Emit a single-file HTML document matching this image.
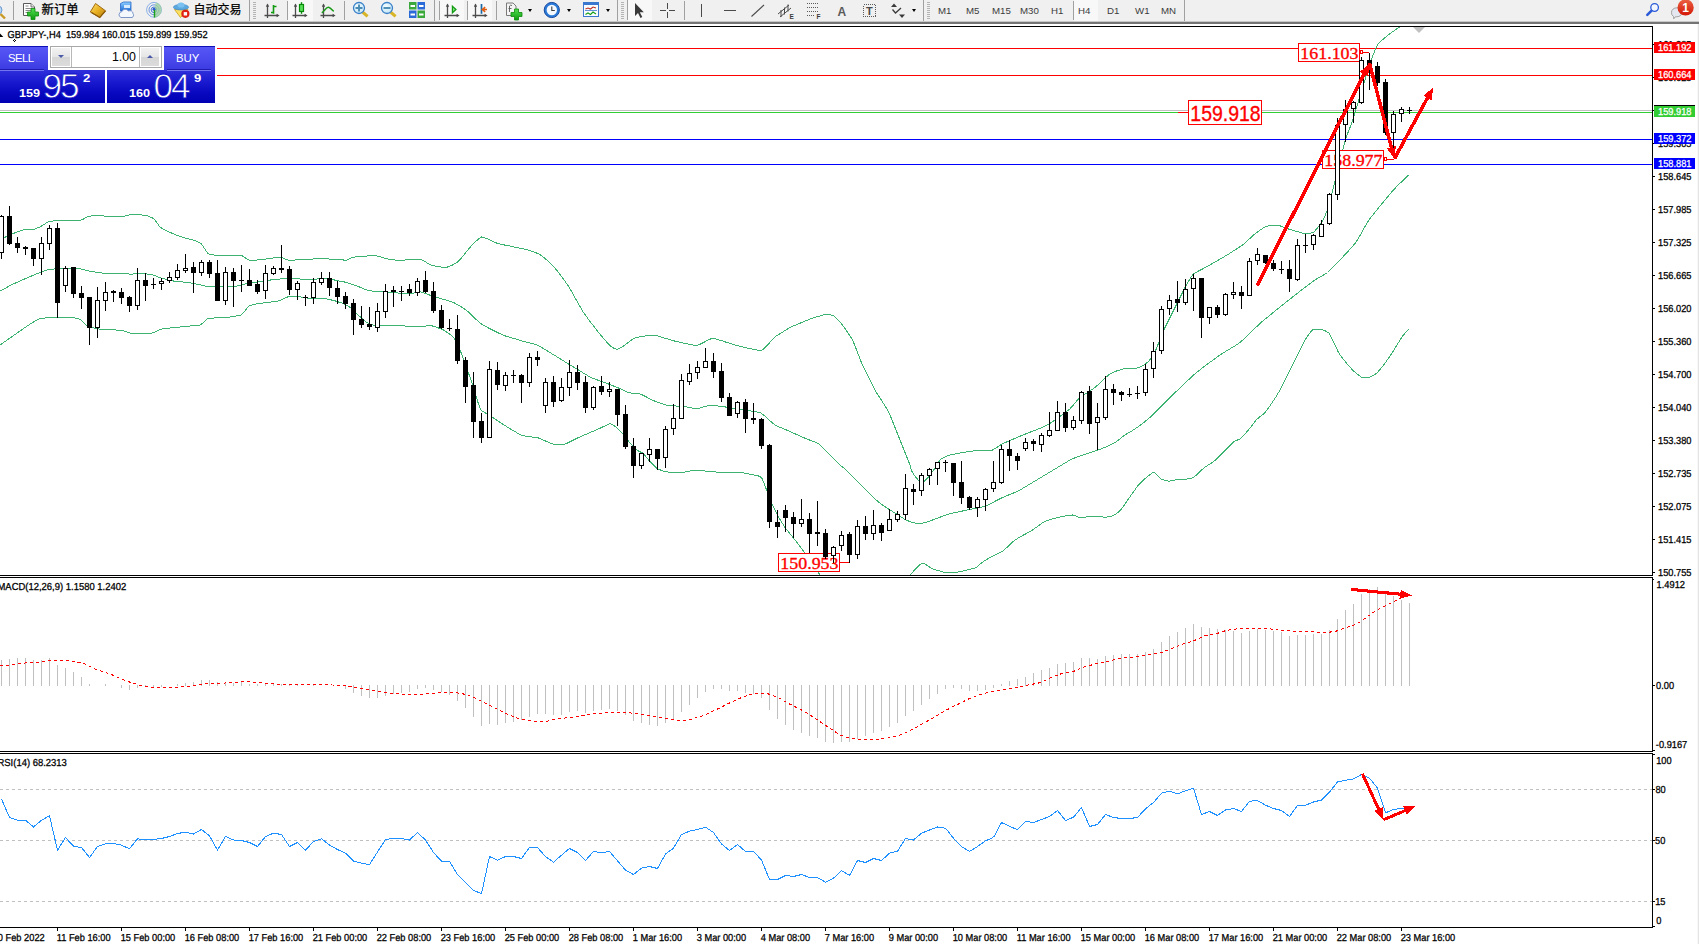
<!DOCTYPE html>
<html lang="zh">
<head>
<meta charset="utf-8">
<title>GBPJPY-,H4</title>
<style>
html,body{margin:0;padding:0;background:#fff;}
body{width:1699px;height:944px;position:relative;overflow:hidden;font-family:"Liberation Sans","Noto Sans CJK SC",sans-serif;}
#tb{position:absolute;left:0;top:0;width:1699px;height:21px;background:#f0f0f0;}
.l21{position:absolute;left:0;top:21px;width:1699px;height:1px;background:#c8c8c8;}
.l22{position:absolute;left:0;top:22px;width:1699px;height:2px;background:#747474;}
.redge{position:absolute;left:1697px;top:24px;width:2px;height:920px;background:linear-gradient(to right,#f8f8f8 50%,#e3e3e3 50%);}
.sep{position:absolute;top:1px;width:1px;height:19px;background:#a0a0a0;}
.grip{position:absolute;top:2px;width:3px;height:17px;background:repeating-linear-gradient(to bottom,#b4b4b4 0,#b4b4b4 1px,#f0f0f0 1px,#f0f0f0 2px);}
.sel{position:absolute;top:0;height:21px;background:#f8f8f8;}
.cj{position:absolute;top:3px;font-size:12px;line-height:15px;color:#000;font-family:"Liberation Sans","Noto Sans CJK SC",sans-serif;white-space:nowrap;-webkit-text-stroke:0.25px #000;}
.tf{position:absolute;top:5px;font-size:9.7px;line-height:12px;color:#3c3c3c;white-space:nowrap;font-family:"Liberation Sans",sans-serif;}
.ic{position:absolute;top:0;left:0;}
.dd{position:absolute;top:9px;width:0;height:0;border-left:2.5px solid transparent;border-right:2.5px solid transparent;border-top:3px solid #000;}
/* trade panel */
#tp{position:absolute;left:0;top:46px;width:215px;height:57px;font-family:"Liberation Sans",sans-serif;color:#fff;}
#tp div{position:absolute;}
.bt{background:linear-gradient(to bottom,#5757f6 0%,#4a4aee 50%,#3a3ae0 100%);border-top:1px solid #1010b8;box-sizing:border-box;}
.pr{background:linear-gradient(to bottom,#3030dc 0%,#1a1ad0 35%,#0808c0 70%,#0000b2 100%);}
</style>
</head>
<body>
<div id="tb"></div><div class="l21"></div><div class="l22"></div><div class="redge"></div>
<div class="sep" style="left:13px"></div>
<div class="sep" style="left:249px;top:0;height:21px"></div><div class="grip" style="left:253px"></div>
<div class="sep" style="left:287px"></div>
<div class="sel" style="left:288px;width:25px"></div>
<div class="sep" style="left:344px"></div>
<div class="sep" style="left:434px;top:0;height:21px"></div><div class="sep" style="left:439px"></div>
<div class="sel" style="left:440px;width:24px"></div>
<div class="sep" style="left:467px"></div>
<div class="sel" style="left:468px;width:24px"></div>
<div class="sep" style="left:496px"></div>
<div class="sep" style="left:617px;top:0;height:21px"></div><div class="grip" style="left:621px"></div><div class="sep" style="left:627px;top:0;height:20px"></div>
<div class="sel" style="left:628px;width:24px"></div>
<div class="sep" style="left:684px"></div>
<div class="sep" style="left:923px;top:0;height:21px"></div><div class="grip" style="left:927px"></div>
<div class="sep" style="left:1073px"></div>
<div class="sel" style="left:1074px;width:24px"></div>
<div class="sep" style="left:1184px;top:0;height:21px"></div>
<div class="cj" style="left:41.5px;font-size:12.4px">新订单</div>
<div class="cj" style="left:193.6px;font-size:12px">自动交易</div>
<div class="tf" style="left:938px">M1</div>
<div class="tf" style="left:966px">M5</div>
<div class="tf" style="left:992px">M15</div>
<div class="tf" style="left:1020px">M30</div>
<div class="tf" style="left:1051px">H1</div>
<div class="tf" style="left:1078px">H4</div>
<div class="tf" style="left:1107px">D1</div>
<div class="tf" style="left:1135px">W1</div>
<div class="tf" style="left:1161px">MN</div>
<div class="dd" style="left:528px"></div>
<div class="dd" style="left:567px"></div>
<div class="dd" style="left:606px"></div>
<div class="dd" style="left:912px"></div>
<svg class="ic" width="1699" height="24" viewBox="0 0 1699 24">
<defs>
<linearGradient id="gg" x1="0" y1="0" x2="0" y2="1"><stop offset="0" stop-color="#4fe04f"/><stop offset="1" stop-color="#0f9a0f"/></linearGradient>
<linearGradient id="gold" x1="0" y1="0" x2="1" y2="1"><stop offset="0" stop-color="#ffe070"/><stop offset="0.5" stop-color="#e8b020"/><stop offset="1" stop-color="#b07a10"/></linearGradient>
<linearGradient id="blu" x1="0" y1="0" x2="0" y2="1"><stop offset="0" stop-color="#8fd0ff"/><stop offset="1" stop-color="#1a6ad8"/></linearGradient>
<linearGradient id="redb" x1="0" y1="0" x2="0" y2="1"><stop offset="0" stop-color="#ea6040"/><stop offset="1" stop-color="#d41808"/></linearGradient>
<radialGradient id="lens" cx="0.4" cy="0.35" r="0.7"><stop offset="0" stop-color="#f4fcff"/><stop offset="1" stop-color="#bfe4f8"/></radialGradient>
</defs>
<!-- left partial magnifier -->
<circle cx="-2" cy="10" r="4" fill="#b8d8f8" stroke="#6a9ad0" stroke-width="1"/>
<line x1="0.5" y1="14" x2="5" y2="18.5" stroke="#c89a28" stroke-width="2.4"/>
<!-- new order doc -->
<path d="M23.5 3.5 h7.5 l3.5 3.5 v8.5 h-11 z" fill="#fff" stroke="#5a5a5a" stroke-width="1"/>
<path d="M31 3.5 v3.5 h3.5" fill="#e8e8e8" stroke="#5a5a5a" stroke-width="0.8"/>
<path d="M25.5 6 h3 M25.5 8.5 h6 M25.5 10.5 h6 M25.5 12.5 h3" stroke="#8a8a8a" stroke-width="1"/>
<path d="M31 8.5 h4 v3.5 h3.5 v4 h-3.5 v3.5 h-4 v-3.5 h-3.5 v-4 h3.5 z" fill="url(#gg)" stroke="#0a8a0a" stroke-width="0.8"/>
<!-- gold book -->
<path d="M90.3 12 L95.5 3.5 L105.5 10.8 L99.8 17.5 Z" fill="url(#gold)" stroke="#a06a10" stroke-width="1"/>
<path d="M91.5 12.6 L99.8 17.5 L105.5 10.8" fill="none" stroke="#8a5808" stroke-width="1.2"/>
<!-- server/cloud -->
<path d="M120.5 3.5 l3 -1.5 h7.5 v9 h-10.5 z" fill="url(#blu)" stroke="#2a6ac8" stroke-width="0.8"/>
<path d="M124 5 h6 v3 h-6 z" fill="#d8ecff"/>
<path d="M121 17.5 a3 3 0 0 1 0.8 -5.8 a3.6 3.6 0 0 1 6.6 -0.6 a3 3 0 0 1 4.6 2.6 a2.4 2.4 0 0 1 -1 3.8 z" fill="#f4f8ff" stroke="#7a96c8" stroke-width="1"/>
<!-- signal -->
<circle cx="154" cy="9.8" r="7.4" fill="none" stroke="#8ab0e8" stroke-width="1"/>
<circle cx="154" cy="9.8" r="5" fill="none" stroke="#6a94e0" stroke-width="1"/>
<circle cx="154" cy="9.8" r="2.8" fill="none" stroke="#4a78d8" stroke-width="1"/>
<path d="M154 9.8 L154 17.4 A7.6 7.6 0 0 0 161.6 9.8 A7.6 7.6 0 0 0 156 2.5 Z" fill="#9ad09a" opacity="0.75"/>
<circle cx="154" cy="9.3" r="1.5" fill="#2a5ad0"/>
<line x1="154.5" y1="10" x2="154.5" y2="17.5" stroke="#18a018" stroke-width="1.4"/>
<!-- autotrade -->
<path d="M174.5 9.5 h13.5 l-7.5 8 z" fill="#ffe060" stroke="#c8a020" stroke-width="0.8"/>
<ellipse cx="181" cy="7.2" rx="7.6" ry="2.8" fill="#5aa8e0" stroke="#3a80c0" stroke-width="0.6"/>
<ellipse cx="181" cy="5" rx="3.6" ry="2.6" fill="#7ac0f0"/>
<circle cx="185.4" cy="13.8" r="4.1" fill="#e02010"/>
<rect x="183.7" y="12.1" width="3.4" height="3.4" fill="#fff"/>
<!-- chart type icons -->
<path d="M267.5 4.5 V18 M264.5 15.5 H278" stroke="#4c4c4c" stroke-width="1.3" fill="none"/><path d="M265.8 6.8 L267.5 3.6 L269.2 6.8 Z M276.6 13.8 L279.6 15.5 L276.6 17.2 Z" fill="#4c4c4c"/>
<path d="M295.5 4.5 V18 M292.5 15.5 H306" stroke="#4c4c4c" stroke-width="1.3" fill="none"/><path d="M293.8 6.8 L295.5 3.6 L297.2 6.8 Z M304.6 13.8 L307.6 15.5 L304.6 17.2 Z" fill="#4c4c4c"/>
<path d="M323.5 4.5 V18 M320.5 15.5 H334" stroke="#4c4c4c" stroke-width="1.3" fill="none"/><path d="M321.8 6.8 L323.5 3.6 L325.2 6.8 Z M332.6 13.8 L335.6 15.5 L332.6 17.2 Z" fill="#4c4c4c"/>
<path d="M447.5 4.5 V18 M444.5 15.5 H458" stroke="#4c4c4c" stroke-width="1.3" fill="none"/><path d="M445.8 6.8 L447.5 3.6 L449.2 6.8 Z M456.6 13.8 L459.6 15.5 L456.6 17.2 Z" fill="#4c4c4c"/>
<path d="M475.5 4.5 V18 M472.5 15.5 H486" stroke="#4c4c4c" stroke-width="1.3" fill="none"/><path d="M473.8 6.8 L475.5 3.6 L477.2 6.8 Z M484.6 13.8 L487.6 15.5 L484.6 17.2 Z" fill="#4c4c4c"/>
<path d="M273.5 5 V13.8 M273.5 6.5 H276.5 M271 12.5 H273.5" stroke="#129a12" stroke-width="1.6" fill="none"/>
<path d="M301.5 2.2 V13.8" stroke="#0a8a0a" stroke-width="1.4"/>
<rect x="299.5" y="4.5" width="4" height="7" fill="#56e056" stroke="#0a8a0a" stroke-width="1.2"/>
<path d="M321.8 12.8 C324.5 11 326 7.2 328.3 7.2 C330.5 7.2 331.5 10.4 333.8 11.2" stroke="#1a9a1a" stroke-width="1.5" fill="none"/>
<path d="M452.4 6.2 L456 9.5 L452.4 12.8 Z" fill="#7ae07a" stroke="#129a12" stroke-width="1.2"/>
<path d="M481.5 4 V13.8" stroke="#1a6aa8" stroke-width="1.7"/>
<path d="M487 9.500 H482.600 M485.200 7.200 L482.300 9.500 L485.200 11.800" stroke="#e05a10" stroke-width="1.500" fill="none"/>
<!-- zoom in / out -->
<line x1="362.5" y1="12" x2="367.6" y2="16.300" stroke="#d8b428" stroke-width="3" stroke-linecap="butt"/>
<circle cx="359" cy="8" r="5.500" fill="url(#lens)" stroke="#3a80c8" stroke-width="1.300"/>
<path d="M355.500 8 h7 M359 4.500 v7" stroke="#4a8cb4" stroke-width="1.900"/>
<line x1="390.500" y1="12" x2="395.600" y2="16.300" stroke="#d8b428" stroke-width="3" stroke-linecap="butt"/>
<circle cx="387" cy="8" r="5.500" fill="url(#lens)" stroke="#3a80c8" stroke-width="1.300"/>
<path d="M383.500 8 h7" stroke="#4a8cb4" stroke-width="1.900"/>
<!-- tile -->
<rect x="409" y="2" width="7.500" height="7.500" fill="#3aa83a"/><rect x="417.500" y="2" width="7.500" height="7.500" fill="#2a6ad8"/>
<rect x="409" y="10.500" width="7.500" height="7.500" fill="#2a6ad8"/><rect x="417.500" y="10.500" width="7.500" height="7.500" fill="#3aa83a"/>
<path d="M410.500 6 h4.500 M419 6 h4.500 M410.500 14.500 h4.500 M419 14.500 h4.500" stroke="#fff" stroke-width="2"/>
<!-- indicators doc+plus -->
<path d="M506.500 3 h6.500 l3 3 v9.500 h-9.500 z" fill="#f4f4f4" stroke="#7a7a7a" stroke-width="1"/>
<path d="M509.500 12 v-6 q1 -1.500 2.500 -0.500 M508.500 8.500 h3" stroke="#5a5a5a" stroke-width="0.900" fill="none"/>
<path d="M514.500 9 h4 v3.500 h3.500 v4 h-3.500 v3.500 h-4 v-3.500 h-3.500 v-4 h3.500 z" fill="url(#gg)" stroke="#0a8a0a" stroke-width="0.800"/>
<!-- clock -->
<circle cx="551.800" cy="10" r="7.600" fill="#2a7ad8" stroke="#1a4aa0" stroke-width="1"/>
<circle cx="551.800" cy="10" r="5.200" fill="#f4f8ff"/>
<path d="M551.800 6.500 v4 h3" stroke="#3a3a3a" stroke-width="1.100" fill="none"/>
<!-- template -->
<rect x="583.500" y="2.500" width="15" height="14" fill="#f8fbff" stroke="#3a78d0" stroke-width="1"/>
<rect x="583.500" y="2.500" width="15" height="2.500" fill="#3a78d0"/>
<path d="M585.500 9 l2.500 -1 l2.500 1 l2.500 -2 l3 1" stroke="#c03020" stroke-width="1.100" fill="none"/>
<path d="M585 10.500 h12" stroke="#3a78d0" stroke-width="0.800"/>
<path d="M585.500 14.500 l2.500 -1.500 l2.500 1.500 l2.500 -2.500 l3 2" stroke="#18a018" stroke-width="1.100" fill="none"/>
<!-- cursor -->
<path d="M635 3 v13 l3 -3 l2.500 5 l1.800 -0.900 l-2.500 -4.800 h4 z" fill="#3a3a3a"/>
<!-- crosshair -->
<path d="M667.500 3 v6 M667.500 12 v6 M660 10.500 h6 M669 10.500 h6" stroke="#4a4a4a" stroke-width="1" shape-rendering="crispEdges"/>
<!-- vline, hline, trend -->
<path d="M701.500 4 v13 M724 10.500 h12" stroke="#4a4a4a" stroke-width="1" shape-rendering="crispEdges"/>
<line x1="751.500" y1="16.500" x2="764" y2="5" stroke="#4a4a4a" stroke-width="1.100"/>
<!-- channel -->
<path d="M778 14 l11 -9 M780 17 l11 -9 M781 10 v7 M784.500 7.500 v7 M788 4.500 v7" stroke="#4a4a4a" stroke-width="1" fill="none"/>
<text x="789.500" y="19" font-family="'Liberation Sans',sans-serif" font-size="6.500" font-weight="bold" fill="#3a3a3a">E</text>
<!-- fib -->
<path d="M807 3.500 h11 M807 7.500 h11 M807 11.500 h11 M807 15.500 h8" stroke="#5a5a5a" stroke-width="1" stroke-dasharray="1 1" shape-rendering="crispEdges"/>
<text x="816.500" y="19" font-family="'Liberation Sans',sans-serif" font-size="6.500" font-weight="bold" fill="#3a3a3a">F</text>
<!-- A -->
<text x="837.500" y="15.500" font-family="'Liberation Sans',sans-serif" font-size="12" font-weight="bold" fill="#5a5a5a">A</text>
<!-- T label -->
<rect x="863.500" y="4.500" width="12" height="12" fill="none" stroke="#5a5a5a" stroke-width="1" stroke-dasharray="1 1" shape-rendering="crispEdges"/>
<text x="866" y="15" font-family="'Liberation Sans',sans-serif" font-size="11" font-weight="bold" fill="#4a4a4a">T</text>
<!-- arrows icon -->
<path d="M891 7 l3 -3.500 l3 3.500 z M899 14.500 l3 3.500 l3 -3.500 z" fill="#3a3a3a"/>
<path d="M892.500 9.500 l3 3.500 l5.500 -5" stroke="#3a3a3a" stroke-width="1.300" fill="none"/>
<!-- search -->
<line x1="1651.300" y1="10.800" x2="1647.300" y2="14.800" stroke="#2a5ad8" stroke-width="2.600" stroke-linecap="round"/>
<circle cx="1654.600" cy="7.500" r="3.800" fill="#f4f6ff" stroke="#2a5ad8" stroke-width="1.300"/>
<!-- chat -->
<path d="M1671.500 12.300 a5.300 4.500 0 1 1 5.300 4.500 h-1.500 l-1.500 2 l-0.300 -2.300 a5 4.500 0 0 1 -2 -4.200 z" fill="#e4e6f0" stroke="#a0a0a0" stroke-width="1"/>
<circle cx="1685.600" cy="7.500" r="8.100" fill="url(#redb)"/>
<text x="1685.600" y="11.800" text-anchor="middle" font-family="'Liberation Sans',sans-serif" font-size="12" font-weight="bold" fill="#fff">1</text>
</svg>

<svg id="chart" width="1699" height="944" viewBox="0 0 1699 944" style="position:absolute;left:0;top:0">
<defs><clipPath id="cm"><rect x="0" y="27" width="1652" height="548"/></clipPath><clipPath id="c2"><rect x="0" y="578" width="1652" height="172"/></clipPath><clipPath id="c3"><rect x="0" y="754" width="1652" height="173"/></clipPath></defs>
<g clip-path="url(#cm)" shape-rendering="crispEdges">
<rect x="217" y="48" width="1435" height="1" fill="#ff0000"/>
<rect x="217" y="75" width="1435" height="1" fill="#ff0000"/>
<rect x="0" y="110" width="1652" height="1" fill="#c0c0c0"/>
<rect x="0" y="112" width="1652" height="1" fill="#32cd32"/>
<rect x="0" y="139" width="1652" height="1" fill="#0000ff"/>
<rect x="0" y="164" width="1652" height="1" fill="#0000ff"/>
<polyline points="-3.0,241.0 -1.0,240.1 1.0,239.1 3.0,238.2 4.4,237.5 5.0,237.2 7.0,236.3 9.0,235.4 11.0,234.4 12.5,233.8 13.0,233.5 15.0,232.8 17.0,232.0 19.0,231.3 21.0,230.7 23.0,230.0 25.0,229.4 27.0,229.2 29.0,229.2 31.0,229.3 33.0,229.2 34.4,229.1 35.0,228.9 37.0,228.1 39.0,227.3 41.0,226.4 41.2,226.2 43.0,225.2 45.0,223.8 47.0,222.5 49.0,221.4 49.4,221.2 51.0,221.1 53.0,221.0 55.0,220.8 57.0,220.7 59.0,220.7 60.0,220.6 61.0,220.6 63.0,220.5 65.0,220.4 67.0,220.4 69.0,220.4 71.0,220.3 73.0,220.3 75.0,220.2 77.0,220.2 79.0,220.1 81.0,220.0 81.2,220.0 83.0,219.3 85.0,218.2 87.0,217.1 88.8,216.2 89.0,216.2 91.0,216.0 93.0,215.8 95.0,215.7 97.0,215.7 99.0,215.7 101.0,215.8 103.0,215.9 105.0,216.1 107.0,216.2 109.0,216.4 111.0,216.5 113.0,216.7 115.0,216.8 117.0,216.8 119.0,216.8 121.0,216.7 123.0,216.5 125.0,216.2 126.0,215.4 127.0,215.3 129.0,215.0 131.0,214.9 133.0,214.8 135.0,214.7 137.0,214.8 139.0,214.8 141.0,214.9 143.0,215.1 145.0,215.3 146.2,215.4 147.0,215.7 149.0,216.4 151.0,217.3 153.0,218.3 153.8,218.8 155.0,220.2 157.0,222.9 159.0,225.7 160.6,227.5 161.0,227.7 163.0,228.8 165.0,229.9 167.0,230.9 169.0,231.9 171.0,232.8 173.0,233.7 175.0,234.6 177.0,235.3 179.0,236.0 181.0,236.7 183.0,237.4 185.0,238.1 187.0,238.6 189.0,239.1 191.0,239.6 193.0,240.1 195.0,240.6 197.0,241.5 199.0,242.5 201.0,243.6 201.2,243.8 203.0,246.1 205.0,249.3 207.0,252.3 208.0,253.5 209.0,253.9 211.0,254.6 211.8,254.8 213.0,254.9 215.0,255.1 217.0,255.4 219.0,255.6 221.0,255.7 221.8,255.8 223.0,255.7 225.0,255.5 227.0,255.3 229.0,255.1 229.2,255.1 231.0,255.1 233.0,255.0 235.0,255.0 237.0,255.0 239.0,255.1 240.5,255.1 241.0,255.3 243.0,256.3 245.0,257.7 247.0,259.0 249.0,260.0 249.2,260.1 251.0,260.1 253.0,260.1 255.0,260.1 257.0,260.0 259.0,259.9 260.5,259.8 261.0,259.7 263.0,259.4 265.0,259.1 267.0,258.8 269.0,258.5 270.5,258.2 271.0,258.2 273.0,258.0 275.0,257.7 277.0,257.5 279.0,257.4 280.5,257.2 281.0,257.4 283.0,258.1 285.0,259.0 287.0,259.8 288.0,260.1 289.0,260.1 291.0,260.1 293.0,260.0 295.0,260.0 297.0,259.9 299.0,259.8 300.5,259.8 301.0,259.7 303.0,259.5 305.0,259.4 307.0,259.2 308.0,259.1 309.0,259.1 311.0,259.0 313.0,259.0 315.0,258.9 317.0,258.9 319.0,258.9 321.0,258.9 323.0,258.9 325.0,258.9 327.0,258.9 329.0,259.0 331.0,259.0 333.0,259.0 335.0,259.0 337.0,259.1 339.0,259.1 339.2,259.1 341.0,259.4 343.0,259.9 345.0,260.3 345.5,260.4 347.0,259.9 349.0,259.0 351.0,258.0 353.0,257.2 355.0,257.0 357.0,256.8 359.0,256.6 361.0,256.4 363.0,256.2 365.0,256.0 365.5,256.0 367.0,256.0 369.0,255.9 371.0,255.9 373.0,255.9 375.0,255.9 377.0,256.0 378.0,256.0 379.0,256.3 381.0,256.9 383.0,257.7 385.0,258.4 385.5,258.5 387.0,258.8 389.0,259.1 391.0,259.4 393.0,259.7 395.0,260.0 397.0,260.2 399.0,260.4 399.2,260.4 401.0,260.3 403.0,260.2 405.0,260.0 407.0,259.9 409.0,259.7 411.0,259.5 413.0,259.4 415.0,259.3 417.0,259.3 419.0,259.3 420.0,259.3 421.0,259.6 423.0,260.5 425.0,261.6 427.0,262.8 429.0,264.0 431.0,265.0 433.0,265.5 435.0,266.0 437.0,266.4 439.0,266.7 441.0,267.0 443.0,267.3 445.0,267.4 446.0,267.5 447.0,267.2 449.0,266.5 451.0,265.7 453.0,264.7 455.0,263.6 457.0,262.3 458.5,261.2 459.0,260.7 461.0,258.4 463.0,256.0 465.0,253.5 467.0,251.0 469.0,248.6 471.0,246.2 473.0,244.2 475.0,242.2 477.0,240.3 479.0,238.6 481.0,237.3 481.5,237.0 483.0,237.3 485.0,237.9 487.0,238.7 489.0,239.6 491.0,240.5 493.0,241.5 495.0,242.4 497.0,243.2 498.5,243.8 499.0,243.9 501.0,244.3 503.0,244.7 505.0,245.1 507.0,245.5 509.0,245.9 511.0,246.3 513.0,246.7 515.0,247.2 517.0,247.6 519.0,248.0 521.0,248.4 523.0,248.8 525.0,249.3 526.0,249.5 527.0,249.8 529.0,250.4 531.0,251.1 533.0,251.7 535.0,252.4 537.0,253.2 538.5,253.8 539.0,254.1 541.0,255.4 543.0,256.9 545.0,258.5 547.0,260.2 549.0,262.0 551.0,263.9 553.0,265.8 553.5,266.2 555.0,268.1 557.0,270.6 559.0,273.2 561.0,275.8 563.0,278.5 565.0,281.3 567.0,284.1 568.5,286.2 569.0,287.1 571.0,290.5 573.0,294.1 575.0,297.7 577.0,301.3 579.0,304.9 581.0,308.3 583.0,311.7 583.5,312.5 585.0,314.6 587.0,317.3 589.0,320.0 591.0,322.7 593.0,325.3 595.0,327.9 597.0,330.6 598.5,332.5 599.0,333.1 601.0,335.5 603.0,337.8 605.0,340.1 607.0,342.4 609.0,344.7 609.8,345.5 611.0,346.5 613.0,347.8 615.0,348.8 617.0,349.4 617.2,349.5 619.0,348.7 621.0,347.6 623.0,346.3 625.0,344.9 627.0,343.4 629.0,341.9 631.0,340.4 633.0,339.1 635.0,338.0 636.0,337.5 637.0,337.3 639.0,337.0 641.0,336.6 643.0,336.3 645.0,336.0 647.0,335.8 649.0,335.6 651.0,335.5 653.0,335.4 655.0,335.4 656.0,335.5 657.0,335.8 659.0,336.3 661.0,336.9 663.0,337.6 665.0,338.2 667.0,338.8 669.0,339.4 671.0,340.0 673.0,340.6 673.5,340.8 675.0,341.1 677.0,341.6 679.0,342.0 681.0,342.5 683.0,342.9 685.0,343.4 687.0,343.8 689.0,344.2 691.0,344.6 693.0,345.0 695.0,345.3 696.0,345.5 697.0,345.3 699.0,344.7 701.0,343.8 703.0,342.8 705.0,341.7 707.0,340.6 709.0,339.6 711.0,338.8 713.0,338.3 713.5,338.2 715.0,338.7 717.0,339.2 719.0,339.9 721.0,340.5 723.0,341.1 725.0,341.8 727.0,342.5 729.0,343.1 731.0,343.7 733.0,344.4 733.5,344.5 735.0,344.9 737.0,345.4 739.0,345.9 741.0,346.4 743.0,347.0 745.0,347.5 747.0,348.0 749.0,348.5 751.0,348.9 753.0,349.3 755.0,349.7 757.0,350.0 759.0,350.3 761.0,350.5 763.0,349.3 765.0,347.6 767.0,345.6 769.0,343.4 771.0,341.2 773.0,339.0 775.0,337.1 776.0,336.2 777.0,335.6 779.0,334.3 781.0,333.0 783.0,331.8 785.0,330.5 787.0,329.3 789.0,328.1 791.0,327.0 793.0,326.1 795.0,325.3 797.0,324.4 799.0,323.6 801.0,322.8 803.0,322.0 805.0,321.1 807.0,320.3 809.0,319.5 811.0,318.8 813.0,318.1 815.0,317.4 817.0,316.8 819.0,316.2 821.0,315.6 823.0,315.1 825.0,314.5 826.0,314.2 827.0,314.3 829.0,314.5 831.0,314.9 833.0,315.6 833.5,315.8 835.0,317.0 837.0,318.9 839.0,320.9 840.0,322.0 841.0,323.3 843.0,325.9 845.0,328.6 847.0,331.4 849.0,334.4 851.0,337.5 852.5,340.0 853.0,341.1 855.0,346.0 857.0,351.1 859.0,356.3 861.0,361.4 862.5,365.0 863.0,366.0 865.0,370.1 867.0,374.2 869.0,378.2 871.0,382.2 873.0,386.1 875.0,390.0 877.0,393.4 879.0,396.6 881.0,399.6 883.0,402.7 885.0,405.9 887.0,409.2 889.0,413.0 890.0,415.0 891.0,417.5 893.0,422.5 895.0,427.5 897.0,432.5 899.0,437.5 900.0,440.0 901.0,442.5 903.0,447.5 905.0,452.5 907.0,457.5 909.0,462.5 910.0,465.0 911.0,469.1 911.2,470.0 913.0,473.2 915.0,476.2 917.0,478.7 918.8,480.6 919.0,480.7 921.0,481.6 923.0,482.0 923.8,481.9 925.0,480.6 927.0,478.5 929.0,476.2 930.0,475.0 931.0,473.7 933.0,471.0 933.8,470.0 935.0,468.0 937.0,464.7 939.0,461.4 940.0,460.0 941.0,459.2 943.0,458.0 945.0,457.0 947.0,456.1 949.0,455.4 950.0,455.0 951.0,454.8 953.0,454.4 955.0,454.0 957.0,453.6 959.0,453.2 961.0,452.8 963.0,452.5 965.0,452.1 967.0,451.8 969.0,451.4 970.0,451.2 971.0,451.2 973.0,451.0 975.0,450.9 977.0,450.9 979.0,450.9 981.0,450.8 983.0,450.8 985.0,450.7 987.0,450.6 989.0,450.5 991.0,450.2 992.5,450.0 993.0,449.8 995.0,448.6 997.0,447.3 999.0,445.9 1001.0,444.6 1002.5,443.8 1003.0,443.5 1005.0,442.7 1007.0,441.8 1009.0,440.9 1011.0,440.1 1013.0,439.2 1015.0,438.4 1017.0,437.5 1019.0,436.7 1020.0,436.2 1021.0,435.8 1023.0,435.0 1025.0,434.2 1027.0,433.4 1029.0,432.6 1031.0,431.8 1033.0,431.1 1035.0,430.3 1037.0,429.5 1039.0,428.7 1041.0,427.9 1043.0,427.1 1045.0,426.2 1047.0,425.1 1049.0,423.9 1051.0,422.6 1053.0,421.3 1055.0,420.0 1057.0,418.6 1059.0,417.1 1061.0,415.7 1063.0,414.2 1065.0,412.6 1067.0,411.1 1069.0,409.5 1070.0,408.8 1071.0,407.7 1073.0,405.5 1075.0,403.1 1077.0,400.7 1079.0,398.5 1080.0,397.5 1081.0,396.8 1083.0,395.4 1085.0,394.0 1087.0,392.8 1089.0,391.5 1091.0,390.2 1093.0,388.9 1095.0,387.5 1097.0,385.7 1099.0,383.9 1101.0,382.0 1103.0,380.0 1105.0,378.1 1107.0,376.3 1109.0,374.6 1110.0,373.8 1111.0,373.3 1113.0,372.4 1115.0,371.6 1117.0,370.8 1119.0,370.2 1121.0,369.6 1123.0,369.0 1125.0,368.5 1127.0,368.3 1129.0,368.3 1131.0,368.3 1133.0,368.2 1135.0,368.2 1137.0,368.1 1137.5,368.0 1139.0,367.5 1141.0,366.6 1143.0,365.6 1145.0,364.5 1147.0,362.7 1149.0,360.8 1151.0,358.6 1153.0,356.1 1153.8,355.0 1155.0,352.1 1157.0,347.2 1159.0,341.9 1161.0,336.7 1163.0,331.7 1163.8,330.0 1165.0,327.5 1167.0,323.5 1169.0,319.5 1170.0,317.5 1171.0,315.5 1173.0,311.5 1175.0,307.5 1177.0,303.5 1177.5,302.5 1179.0,299.5 1181.0,295.5 1183.0,291.5 1185.0,287.5 1187.0,283.9 1189.0,280.5 1191.0,277.3 1193.0,274.6 1193.8,273.8 1195.0,273.0 1197.0,271.9 1199.0,270.8 1201.0,269.8 1203.0,268.7 1205.0,267.6 1207.0,266.5 1207.5,266.2 1209.0,265.4 1211.0,264.3 1213.0,263.1 1215.0,262.0 1217.0,260.8 1219.0,259.7 1221.0,258.5 1223.0,257.4 1225.0,256.2 1227.0,255.0 1229.0,253.8 1231.0,252.5 1233.0,251.2 1235.0,250.0 1237.0,248.7 1239.0,247.3 1241.0,246.0 1242.5,245.0 1243.0,244.6 1245.0,242.9 1247.0,241.1 1249.0,239.2 1251.0,237.4 1253.0,235.5 1255.0,233.8 1257.0,232.3 1259.0,230.9 1261.0,229.5 1263.0,228.2 1265.0,227.0 1267.0,226.4 1269.0,225.8 1271.0,225.4 1273.0,225.1 1275.0,225.0 1277.0,225.0 1277.5,225.0 1279.0,225.5 1281.0,226.2 1283.0,226.9 1285.0,227.7 1287.0,228.4 1289.0,229.2 1290.0,229.5 1291.0,229.8 1293.0,230.4 1295.0,231.0 1297.0,231.5 1299.0,232.1 1301.0,232.7 1303.0,233.2 1305.0,233.8 1307.0,233.7 1309.0,233.4 1311.0,232.9 1313.0,232.3 1313.8,232.0 1315.0,230.8 1317.0,228.6 1319.0,226.0 1321.0,223.2 1322.5,221.0 1323.0,220.0 1325.0,215.8 1327.0,211.0 1328.8,206.0 1329.0,205.0 1331.0,197.0 1333.0,189.0 1335.0,181.0 1337.0,173.0 1339.0,165.0 1340.0,161.0 1341.0,157.0 1343.0,149.0 1345.0,141.0 1347.0,135.1 1349.0,130.1 1351.0,125.1 1352.5,121.0 1353.0,119.3 1355.0,112.7 1357.0,106.0 1359.0,99.3 1360.0,96.0 1361.0,92.7 1363.0,86.2 1365.0,79.7 1367.0,73.2 1369.0,66.7 1370.0,63.5 1371.0,60.7 1373.0,55.2 1375.0,50.1 1377.0,45.7 1377.5,44.8 1379.0,43.2 1381.0,41.2 1383.0,39.3 1385.0,37.6 1387.0,35.9 1389.0,34.3 1390.0,33.5 1391.0,32.8 1393.0,31.5 1395.0,30.1 1397.0,28.7 1399.0,27.4 1401.0,26.2 1401.2,26.0 1403.0,25.1 1405.0,24.0 1407.0,23.0 1409.0,22.0" fill="none" stroke="#3CB371" stroke-width="1" />
<polyline points="0.0,291.2 2.0,290.1 4.0,289.0 6.0,287.8 8.0,286.7 10.0,285.7 11.2,285.0 12.0,284.6 14.0,283.7 16.0,282.8 18.0,281.9 20.0,281.0 22.0,280.1 24.0,279.2 25.0,278.8 26.0,278.3 28.0,277.5 30.0,276.6 32.0,275.8 34.0,275.0 36.0,274.1 38.0,273.3 40.0,272.5 42.0,271.8 44.0,271.1 46.0,270.4 48.0,269.8 49.4,269.4 50.0,269.3 52.0,269.2 54.0,269.0 56.0,268.9 58.0,268.9 60.0,268.8 61.2,268.8 62.0,268.7 64.0,268.7 66.0,268.7 68.0,268.7 70.0,268.7 72.0,268.7 74.0,268.7 76.0,268.8 78.0,268.8 80.0,268.9 81.2,269.0 82.0,269.1 84.0,269.6 86.0,270.2 88.0,270.8 90.0,271.2 92.0,271.6 94.0,271.9 96.0,272.2 98.0,272.5 100.0,272.8 102.0,273.0 102.5,273.1 104.0,273.2 106.0,273.2 108.0,273.3 110.0,273.3 112.0,273.3 114.0,273.4 116.0,273.4 118.0,273.4 120.0,273.4 122.0,273.4 124.0,273.5 125.0,273.5 126.0,273.6 128.0,273.9 130.0,274.2 131.2,274.4 132.0,274.3 134.0,273.9 136.0,273.4 137.5,273.1 138.0,273.1 140.0,273.3 142.0,273.5 144.0,273.7 146.0,273.9 148.0,274.2 150.0,274.5 152.0,274.9 153.8,275.2 154.0,275.3 156.0,276.1 158.0,276.9 160.0,277.7 161.2,278.1 162.0,278.3 164.0,278.8 166.0,279.3 168.0,279.8 170.0,280.2 172.0,280.7 174.0,281.1 175.0,281.2 176.0,281.4 178.0,281.6 180.0,281.8 182.0,281.9 184.0,282.1 186.0,282.3 187.5,282.5 188.0,282.6 190.0,282.9 192.0,283.3 194.0,283.6 196.0,284.0 198.0,284.4 200.0,284.8 202.0,285.2 204.0,285.7 206.0,286.2 208.0,286.6 210.0,286.7 212.0,286.7 214.0,286.7 216.0,286.7 218.0,286.6 220.0,286.6 220.5,286.6 222.0,286.6 224.0,286.5 226.0,286.4 228.0,286.4 230.0,286.3 232.0,286.2 234.0,286.1 236.0,286.0 236.8,286.0 238.0,285.8 240.0,285.3 242.0,284.8 244.0,284.2 246.0,283.7 248.0,283.2 249.2,282.9 250.0,282.8 252.0,282.6 254.0,282.4 256.0,282.2 258.0,282.0 260.0,281.8 261.8,281.6 262.0,281.6 264.0,281.2 266.0,280.8 268.0,280.4 270.0,280.1 270.5,280.0 272.0,279.8 274.0,279.6 276.0,279.4 278.0,279.2 280.0,279.0 282.0,278.8 284.0,278.6 285.5,278.5 286.0,278.5 288.0,278.5 290.0,278.4 292.0,278.4 294.0,278.5 295.5,278.5 296.0,278.5 298.0,278.7 300.0,279.0 302.0,279.2 304.0,279.4 305.5,279.5 306.0,279.5 308.0,279.4 310.0,279.4 312.0,279.3 314.0,279.2 315.5,279.1 316.0,279.1 318.0,278.8 320.0,278.6 322.0,278.3 324.0,278.2 325.5,278.2 326.0,278.4 328.0,278.8 330.0,279.1 332.0,279.6 333.0,279.8 334.0,279.9 336.0,280.4 338.0,280.8 340.0,281.1 342.0,281.6 344.0,281.9 345.5,282.2 346.0,282.4 348.0,283.0 350.0,283.6 352.0,284.2 354.0,284.9 355.5,285.4 356.0,285.6 358.0,286.4 360.0,287.2 362.0,288.1 364.0,288.9 366.0,289.7 368.0,290.4 370.0,290.7 372.0,291.0 374.0,291.2 376.0,291.4 378.0,291.5 380.0,291.7 382.0,291.8 383.0,291.9 384.0,291.9 386.0,292.0 388.0,292.1 390.0,292.1 392.0,292.2 393.0,292.2 394.0,292.4 396.0,292.7 398.0,293.1 400.0,293.4 400.5,293.5 402.0,293.5 404.0,293.6 406.0,293.5 408.0,293.5 410.0,293.4 412.0,293.3 413.0,293.2 414.0,293.0 416.0,292.4 418.0,291.9 420.0,291.6 422.0,292.2 424.0,293.0 426.0,293.7 428.0,294.4 430.0,295.2 431.0,295.5 432.0,295.8 434.0,296.4 436.0,297.1 438.0,297.7 440.0,298.3 442.0,298.9 444.0,299.5 446.0,300.1 448.0,300.7 450.0,301.4 452.0,302.0 453.5,302.5 454.0,302.7 456.0,303.8 458.0,304.9 460.0,306.1 462.0,307.4 464.0,308.7 466.0,310.0 468.0,311.7 470.0,313.6 472.0,315.5 474.0,317.4 476.0,319.3 478.0,321.2 480.0,322.9 481.0,323.8 482.0,324.3 484.0,325.5 486.0,326.6 488.0,327.7 490.0,328.8 492.0,329.8 494.0,330.8 496.0,331.8 498.0,332.8 500.0,333.7 502.0,334.6 504.0,335.4 506.0,336.2 508.0,336.8 510.0,337.4 512.0,338.0 514.0,338.6 516.0,339.1 518.0,339.7 520.0,340.3 522.0,340.9 524.0,341.4 526.0,342.0 528.0,342.5 530.0,343.0 532.0,343.4 534.0,343.9 536.0,344.5 538.0,345.3 538.5,345.5 540.0,346.4 542.0,347.6 544.0,348.9 546.0,350.1 548.0,351.3 550.0,352.6 552.0,353.8 554.0,355.0 556.0,356.2 558.0,357.5 560.0,358.7 562.0,359.9 564.0,361.2 566.0,362.4 568.0,363.6 570.0,364.9 572.0,366.1 573.5,367.0 574.0,367.3 576.0,368.5 578.0,369.7 580.0,371.0 582.0,372.2 584.0,373.4 586.0,374.6 588.0,375.8 590.0,376.9 591.0,377.5 592.0,377.9 594.0,378.8 596.0,379.5 598.0,380.2 600.0,380.9 602.0,381.6 604.0,382.3 606.0,383.0 608.0,383.8 610.0,384.6 612.0,385.4 614.0,386.2 616.0,387.0 618.0,387.8 618.5,388.0 620.0,388.7 622.0,389.6 624.0,390.5 626.0,391.4 628.0,392.3 628.5,392.5 630.0,392.8 632.0,393.2 634.0,393.3 636.0,393.5 638.0,393.7 640.0,394.0 641.0,394.2 642.0,394.7 644.0,395.7 646.0,396.7 648.0,397.8 650.0,398.9 652.0,399.9 653.5,400.6 654.0,400.8 656.0,401.6 658.0,402.3 660.0,403.1 662.0,403.8 664.0,404.4 666.0,405.0 668.0,405.3 670.0,405.5 672.0,405.7 674.0,405.9 676.0,406.0 678.0,406.2 680.0,406.3 682.0,406.5 684.0,406.7 686.0,406.9 688.0,407.2 690.0,407.6 692.0,408.0 694.0,408.4 696.0,408.8 698.0,408.5 700.0,408.0 702.0,407.5 704.0,406.8 706.0,406.2 708.0,405.7 710.0,405.4 711.0,405.2 712.0,405.4 714.0,405.6 716.0,405.8 718.0,406.0 720.0,406.3 722.0,406.5 724.0,406.8 724.8,406.9 726.0,407.1 728.0,407.4 730.0,407.7 732.0,408.0 734.0,408.3 736.0,408.6 738.0,408.9 740.0,409.2 741.0,409.4 742.0,409.6 744.0,409.9 746.0,410.2 748.0,410.5 750.0,410.9 752.0,411.2 754.0,411.5 756.0,411.9 758.0,412.2 759.8,412.5 760.0,412.6 762.0,413.8 764.0,415.4 766.0,417.1 768.0,418.9 770.0,420.8 772.0,422.6 774.0,424.2 776.0,425.6 778.0,426.5 780.0,427.3 782.0,428.1 784.0,428.9 786.0,429.8 788.0,430.6 790.0,431.5 791.0,431.9 792.0,432.4 794.0,433.3 796.0,434.2 798.0,435.1 800.0,436.0 802.0,436.9 804.0,437.8 806.0,438.8 808.0,439.5 810.0,440.2 812.0,440.9 814.0,441.6 816.0,442.4 818.0,443.4 818.5,443.8 820.0,445.2 822.0,447.2 824.0,449.2 826.0,451.2 828.0,453.2 830.0,455.2 832.0,457.2 834.0,459.1 836.0,461.1 838.0,463.0 840.0,465.0 842.0,466.6 844.0,468.2 846.0,469.8 846.2,470.0 848.0,471.8 850.0,473.8 852.0,475.8 854.0,477.8 856.0,479.8 857.5,481.2 858.0,481.8 860.0,483.8 862.0,485.8 864.0,487.8 866.0,489.8 867.5,491.2 868.0,491.8 870.0,493.8 872.0,495.8 874.0,497.8 876.0,499.8 876.2,500.0 878.0,501.5 880.0,503.1 882.0,504.6 882.5,505.0 884.0,506.0 886.0,507.3 888.0,508.6 890.0,509.9 892.0,511.2 894.0,512.5 895.0,513.1 896.0,513.7 898.0,515.0 900.0,516.3 902.0,517.5 904.0,518.8 905.0,519.4 906.0,519.9 908.0,520.8 910.0,521.6 912.0,522.3 912.5,522.5 914.0,522.8 916.0,523.1 918.0,523.4 920.0,523.5 922.0,523.2 924.0,522.8 926.0,522.3 927.5,521.9 928.0,521.7 930.0,521.0 932.0,520.2 934.0,519.4 936.0,518.7 937.5,518.1 938.0,517.9 940.0,517.2 942.0,516.5 944.0,515.8 946.0,515.1 948.0,514.4 950.0,513.8 952.0,513.3 954.0,512.8 956.0,512.4 958.0,511.9 960.0,511.5 962.0,511.1 962.5,511.0 964.0,510.7 966.0,510.3 968.0,509.9 970.0,509.5 972.0,509.1 974.0,508.7 975.0,508.5 976.0,508.3 978.0,507.9 980.0,507.4 982.0,507.0 984.0,506.5 985.0,506.2 986.0,505.8 988.0,505.0 990.0,504.0 992.0,503.0 994.0,501.9 996.0,500.8 998.0,499.8 1000.0,498.7 1002.0,497.7 1002.5,497.5 1004.0,496.9 1006.0,496.0 1008.0,495.2 1010.0,494.4 1012.0,493.6 1014.0,492.8 1016.0,491.9 1018.0,491.0 1020.0,490.0 1022.0,488.8 1024.0,487.6 1026.0,486.4 1028.0,485.2 1030.0,484.0 1032.0,482.8 1034.0,481.6 1036.0,480.4 1038.0,479.2 1040.0,478.0 1042.0,476.8 1044.0,475.6 1045.0,475.0 1046.0,474.4 1048.0,473.2 1050.0,472.0 1052.0,470.8 1054.0,469.6 1056.0,468.4 1058.0,467.2 1060.0,466.0 1062.0,464.8 1064.0,463.6 1066.0,462.4 1068.0,461.2 1070.0,460.0 1072.0,459.1 1074.0,458.2 1076.0,457.4 1078.0,456.7 1080.0,455.9 1082.0,455.3 1084.0,454.6 1086.0,453.9 1088.0,453.3 1090.0,452.7 1092.0,452.0 1094.0,451.3 1095.0,451.0 1096.0,450.7 1098.0,450.0 1100.0,449.4 1102.0,448.6 1104.0,447.7 1106.0,446.9 1108.0,446.0 1110.0,445.0 1112.0,444.1 1114.0,443.0 1115.0,442.5 1116.0,441.8 1118.0,440.3 1120.0,438.8 1122.0,437.2 1124.0,435.7 1125.0,435.0 1126.0,434.4 1128.0,433.1 1130.0,432.0 1132.0,430.8 1134.0,429.5 1136.0,428.3 1136.2,428.1 1138.0,426.8 1140.0,425.3 1142.0,423.8 1144.0,422.3 1146.0,420.7 1146.9,420.0 1148.0,419.1 1150.0,417.4 1151.0,416.5 1152.0,415.5 1154.0,413.6 1156.0,411.6 1158.0,409.6 1160.0,407.5 1162.0,405.5 1164.0,403.5 1166.0,401.5 1168.0,399.5 1170.0,397.5 1172.0,395.6 1174.0,393.6 1176.0,391.7 1178.0,389.8 1180.0,387.9 1182.0,386.0 1184.0,384.1 1186.0,382.2 1188.0,380.3 1190.0,378.4 1192.0,376.5 1194.0,374.7 1195.0,373.8 1196.0,372.9 1198.0,371.3 1200.0,369.8 1202.0,368.2 1204.0,366.7 1206.0,365.2 1208.0,363.7 1210.0,362.2 1212.0,360.8 1214.0,359.3 1216.0,357.9 1218.0,356.4 1220.0,355.0 1222.0,353.7 1224.0,352.5 1226.0,351.2 1228.0,350.0 1230.0,348.8 1232.0,347.6 1234.0,346.4 1236.0,345.2 1238.0,343.9 1240.0,342.5 1242.0,340.7 1244.0,338.9 1246.0,337.0 1248.0,335.1 1250.0,333.2 1252.0,331.2 1254.0,329.2 1256.0,327.3 1258.0,325.4 1260.0,323.5 1262.0,321.7 1262.5,321.2 1264.0,320.0 1266.0,318.4 1268.0,316.8 1270.0,315.1 1272.0,313.5 1274.0,311.9 1276.0,310.2 1278.0,308.6 1280.0,307.0 1282.0,305.4 1282.5,305.0 1284.0,303.8 1286.0,302.2 1288.0,300.7 1290.0,299.1 1292.0,297.5 1294.0,296.0 1296.0,294.4 1298.0,292.8 1300.0,291.2 1302.0,289.7 1304.0,288.2 1306.0,286.7 1308.0,285.2 1310.0,283.7 1312.0,282.2 1314.0,280.7 1315.0,280.0 1316.0,279.4 1318.0,278.1 1320.0,277.0 1322.0,275.9 1324.0,274.8 1326.0,273.5 1327.5,272.5 1328.0,272.0 1330.0,270.1 1332.0,268.2 1334.0,266.2 1336.0,264.1 1338.0,262.1 1340.0,260.0 1342.0,257.9 1344.0,255.7 1346.0,253.5 1348.0,251.4 1350.0,249.2 1352.0,246.9 1354.0,244.6 1355.0,243.5 1356.0,242.0 1358.0,238.8 1360.0,235.5 1362.0,232.0 1364.0,228.4 1366.0,224.9 1368.0,221.6 1370.0,218.5 1372.0,216.0 1374.0,213.5 1376.0,211.0 1378.0,208.5 1380.0,206.0 1382.0,203.6 1384.0,201.2 1386.0,198.8 1388.0,196.4 1390.0,194.0 1392.0,191.6 1392.5,191.0 1394.0,189.4 1396.0,187.3 1398.0,185.3 1400.0,183.3 1402.0,181.4 1404.0,179.5 1406.0,177.6 1408.0,175.7 1408.8,175.0" fill="none" stroke="#3CB371" stroke-width="1" />
<polyline points="0.0,345.0 2.0,343.6 4.0,342.2 6.0,340.8 8.0,339.4 10.0,338.0 12.0,336.6 12.5,336.2 14.0,335.2 16.0,333.8 18.0,332.4 20.0,331.0 22.0,329.6 24.0,328.2 25.0,327.5 26.0,326.8 28.0,325.5 30.0,324.2 32.0,322.9 34.0,321.6 36.0,320.4 37.5,319.5 38.0,319.3 40.0,318.8 42.0,318.4 44.0,318.1 46.0,317.8 48.0,317.6 50.0,317.4 52.0,317.3 54.0,317.2 56.0,317.1 57.5,317.0 58.0,317.0 60.0,317.0 62.0,317.1 64.0,317.1 66.0,317.2 68.0,317.3 70.0,317.4 72.0,317.5 72.5,317.5 74.0,317.8 76.0,318.2 78.0,318.7 80.0,319.2 82.0,320.9 84.0,323.0 86.0,325.0 87.5,326.2 88.0,326.4 90.0,327.0 92.0,327.5 94.0,328.0 96.0,328.5 98.0,328.9 100.0,329.2 102.0,329.4 104.0,329.5 106.0,329.6 108.0,329.7 110.0,329.8 112.0,329.8 114.0,329.9 116.0,330.0 118.0,330.1 120.0,330.3 122.0,330.4 122.5,330.5 124.0,330.9 126.0,331.6 128.0,332.4 130.0,333.0 132.0,333.2 134.0,333.3 136.0,333.5 138.0,333.5 140.0,333.6 142.0,333.6 144.0,333.6 146.0,333.5 148.0,333.4 150.0,333.2 152.0,333.1 152.5,333.0 154.0,332.4 156.0,331.5 158.0,330.6 160.0,329.6 162.0,328.9 162.5,328.8 164.0,328.6 166.0,328.4 168.0,328.2 170.0,328.0 172.0,327.8 174.0,327.6 176.0,327.4 178.0,327.2 180.0,327.0 182.0,326.8 184.0,326.6 186.0,326.4 188.0,326.2 190.0,326.0 192.0,325.8 194.0,325.6 196.0,325.4 198.0,325.2 200.0,325.0 202.0,323.7 204.0,321.8 206.0,319.9 208.0,318.5 210.0,318.3 212.0,318.1 214.0,318.0 216.0,317.9 218.0,317.8 220.0,317.7 222.0,317.6 224.0,317.5 226.0,317.4 228.0,317.2 230.0,317.0 232.0,316.7 234.0,316.3 236.0,316.0 238.0,315.6 240.0,315.2 241.0,315.0 242.0,314.2 244.0,312.0 246.0,309.5 248.0,307.1 249.2,306.0 250.0,305.7 252.0,305.1 254.0,304.5 255.5,304.1 256.0,304.0 258.0,303.7 260.0,303.4 262.0,303.2 264.0,302.9 266.0,302.7 268.0,302.4 270.0,302.2 272.0,301.9 274.0,301.6 276.0,301.3 278.0,301.0 280.0,300.3 282.0,299.4 284.0,298.5 286.0,297.6 288.0,296.8 289.2,296.4 290.0,296.4 292.0,296.3 294.0,296.4 296.0,296.5 298.0,296.6 300.0,296.9 302.0,297.2 304.0,297.5 306.0,297.8 308.0,298.1 310.0,298.2 312.0,298.2 314.0,298.3 316.0,298.3 318.0,298.3 320.0,298.3 322.0,298.4 324.0,298.5 324.2,298.5 326.0,298.8 328.0,299.2 330.0,299.7 332.0,300.1 334.0,300.6 335.5,301.0 336.0,301.2 338.0,301.8 340.0,302.5 342.0,303.1 343.0,303.5 344.0,304.0 346.0,305.0 348.0,306.1 350.0,307.3 351.8,308.5 352.0,308.7 354.0,310.7 356.0,312.7 358.0,314.8 359.2,316.0 360.0,316.7 362.0,318.5 364.0,320.3 365.5,321.6 366.0,321.9 368.0,323.0 370.0,324.0 372.0,324.7 374.0,325.3 374.2,325.4 376.0,325.5 378.0,325.5 380.0,325.6 380.5,325.6 382.0,325.6 384.0,325.6 386.0,325.6 388.0,325.5 390.0,325.5 392.0,325.5 394.0,325.4 396.0,325.4 398.0,325.4 400.0,325.4 402.0,325.4 403.0,325.4 404.0,325.6 406.0,326.2 408.0,326.6 410.0,326.6 412.0,326.5 414.0,326.4 416.0,326.4 418.0,326.3 420.0,326.2 422.0,326.2 424.0,326.1 426.0,326.0 428.0,325.9 430.0,325.8 431.0,325.8 432.0,325.9 434.0,326.4 436.0,327.1 438.0,327.8 440.0,328.6 442.0,329.4 443.5,330.0 444.0,330.3 446.0,331.6 448.0,332.9 450.0,334.4 452.0,336.1 453.5,337.5 454.0,338.3 456.0,341.9 458.0,345.9 460.0,350.2 461.0,352.5 462.0,355.2 464.0,360.6 466.0,366.1 468.0,371.7 470.0,377.2 471.0,380.0 472.0,383.0 474.0,389.5 476.0,396.2 478.0,402.4 480.0,407.8 481.0,410.0 482.0,410.8 484.0,412.1 486.0,413.3 488.0,414.5 490.0,415.6 491.0,416.2 492.0,416.9 494.0,418.3 496.0,419.6 498.0,420.9 500.0,422.3 502.0,423.6 504.0,424.9 506.0,426.2 508.0,427.5 510.0,428.7 512.0,429.9 514.0,431.1 516.0,432.2 518.0,433.4 520.0,434.5 521.0,435.0 522.0,435.3 524.0,435.8 526.0,436.2 528.0,436.5 530.0,436.7 532.0,437.0 534.0,437.2 536.0,437.5 538.0,437.9 538.5,438.0 540.0,438.6 542.0,439.4 544.0,440.3 546.0,441.2 548.0,442.1 550.0,442.9 552.0,443.7 553.5,444.2 554.0,444.3 556.0,444.5 558.0,444.6 560.0,444.5 562.0,444.4 564.0,444.2 566.0,443.8 568.0,442.8 570.0,441.8 572.0,440.7 574.0,439.7 576.0,438.7 578.0,437.7 578.5,437.5 580.0,436.9 582.0,436.0 584.0,435.1 586.0,434.3 588.0,433.4 590.0,432.6 592.0,431.7 594.0,430.9 596.0,430.0 598.0,429.1 600.0,428.2 602.0,427.3 604.0,426.3 606.0,425.4 608.0,424.5 609.8,423.8 610.0,423.8 612.0,424.4 614.0,425.6 616.0,427.0 618.0,428.9 620.0,430.8 622.0,432.8 622.2,433.1 624.0,435.3 626.0,438.0 628.0,440.6 628.5,441.2 630.0,443.0 632.0,445.2 634.0,447.3 636.0,449.4 638.0,450.7 640.0,451.7 642.0,452.7 643.5,453.8 644.0,454.3 646.0,456.7 648.0,459.2 649.8,461.2 650.0,461.5 652.0,463.6 654.0,465.5 656.0,467.4 657.2,468.5 658.0,468.9 660.0,469.8 662.0,470.6 664.0,471.3 664.8,471.5 666.0,471.7 668.0,472.1 670.0,472.4 671.0,472.5 672.0,472.5 674.0,472.5 676.0,472.5 678.0,472.5 680.0,472.4 682.0,472.4 684.0,472.2 686.0,471.9 688.0,471.4 690.0,471.0 692.0,470.5 694.0,470.2 696.0,470.3 698.0,470.4 700.0,470.5 701.0,470.6 702.0,470.7 704.0,470.9 706.0,471.1 708.0,471.3 710.0,471.5 712.0,471.6 714.0,471.8 716.0,472.0 718.0,472.2 718.5,472.2 720.0,472.3 722.0,472.3 724.0,472.3 726.0,472.3 728.0,472.3 730.0,472.3 732.0,472.2 734.0,472.2 736.0,472.3 738.0,472.3 740.0,472.4 741.0,472.5 742.0,472.7 744.0,473.0 746.0,473.4 748.0,473.8 750.0,474.2 751.0,474.4 752.0,474.6 754.0,475.0 756.0,475.5 758.0,475.9 758.5,476.0 760.0,476.6 762.0,478.4 762.2,478.8 764.0,483.3 766.0,488.4 766.6,490.0 768.0,493.6 770.0,498.8 771.9,503.8 772.0,504.0 774.0,508.2 776.0,512.2 778.0,515.9 780.0,519.4 782.0,522.7 784.0,525.9 785.0,527.5 786.0,528.8 788.0,531.3 790.0,533.7 792.0,536.2 794.0,538.7 795.0,540.0 796.0,541.3 798.0,543.9 800.0,546.5 802.0,549.1 804.0,551.8 805.0,553.1 806.0,554.5 808.0,557.4 810.0,560.3 812.0,563.2 814.0,566.2 816.0,569.1 818.0,572.0 818.8,573.1 820.0,574.7 822.0,577.2 824.0,579.6 826.0,582.0 828.0,584.3 830.0,586.6 832.0,588.8 834.0,590.9 835.0,592.0 836.0,592.7 838.0,593.9 840.0,595.1 842.0,596.2 844.0,597.2 846.0,598.1 848.0,599.0 850.0,599.7 852.0,600.5 854.0,601.1 856.0,601.8 858.0,602.3 860.0,602.8 862.0,603.3 864.0,603.8 865.0,604.0 866.0,603.8 868.0,603.5 870.0,603.1 872.0,602.7 874.0,602.2 876.0,601.7 878.0,601.1 880.0,600.5 882.0,599.8 884.0,598.9 886.0,598.0 888.0,597.0 890.0,595.9 892.0,594.7 893.0,594.0 894.0,592.9 896.0,590.7 898.0,588.5 900.0,586.3 902.0,584.0 904.0,581.7 906.0,579.5 908.0,577.2 910.0,575.0 912.0,572.9 914.0,570.7 916.0,568.6 918.0,566.5 920.0,564.6 921.9,563.1 922.0,563.1 924.0,563.6 926.0,564.6 928.0,565.9 930.0,567.3 932.0,568.5 932.5,568.8 934.0,569.2 936.0,569.9 938.0,570.5 940.0,571.1 942.0,571.7 944.0,572.3 945.0,572.5 946.0,572.6 948.0,572.7 950.0,572.8 952.0,572.9 954.0,572.8 955.0,572.8 956.0,572.6 958.0,572.1 960.0,571.7 962.0,571.3 964.0,570.8 965.0,570.6 966.0,570.3 968.0,569.8 970.0,569.3 972.0,568.8 974.0,568.2 976.0,567.6 976.2,567.5 978.0,566.1 980.0,564.3 982.0,562.5 984.0,561.2 986.0,560.0 988.0,558.7 990.0,557.5 992.0,556.5 994.0,555.5 996.0,554.5 998.0,553.6 1000.0,552.6 1002.0,551.5 1002.5,551.2 1004.0,550.0 1006.0,548.3 1008.0,546.4 1010.0,544.5 1012.0,542.6 1014.0,540.8 1015.0,540.0 1016.0,539.4 1018.0,538.2 1020.0,537.1 1022.0,535.9 1024.0,534.8 1026.0,533.7 1028.0,532.6 1030.0,531.5 1032.0,530.3 1032.5,530.0 1034.0,529.0 1036.0,527.5 1038.0,526.1 1040.0,524.6 1042.0,523.2 1044.0,521.9 1045.0,521.2 1046.0,520.9 1048.0,520.2 1050.0,519.6 1052.0,519.0 1054.0,518.5 1056.0,518.0 1058.0,517.5 1060.0,517.0 1062.0,516.6 1064.0,516.2 1066.0,515.9 1068.0,515.6 1070.0,515.3 1072.0,515.1 1072.5,515.0 1074.0,515.4 1076.0,516.1 1078.0,516.9 1080.0,517.5 1082.0,517.4 1084.0,517.2 1086.0,517.0 1088.0,516.8 1090.0,516.6 1092.0,516.4 1094.0,516.3 1095.0,516.2 1096.0,516.3 1098.0,516.5 1100.0,516.7 1102.0,516.9 1104.0,517.1 1105.6,517.2 1106.0,517.2 1108.0,516.9 1110.0,516.5 1112.0,515.9 1113.1,515.6 1114.0,515.1 1116.0,513.8 1118.0,512.4 1120.0,510.7 1121.2,509.4 1122.0,508.3 1124.0,505.4 1126.0,502.5 1128.0,499.5 1129.4,497.5 1130.0,496.7 1132.0,493.9 1134.0,491.1 1136.0,488.3 1137.5,486.2 1138.0,485.7 1140.0,483.5 1142.0,481.6 1144.0,479.6 1145.6,478.1 1146.0,477.8 1148.0,476.1 1150.0,474.5 1152.0,473.1 1153.5,472.2 1154.0,472.4 1156.0,473.9 1158.0,476.0 1160.0,478.0 1161.2,479.0 1162.0,479.3 1164.0,480.0 1166.0,480.6 1168.0,481.1 1169.4,481.2 1170.0,481.1 1172.0,480.7 1174.0,480.2 1176.0,479.7 1177.5,479.4 1178.0,479.4 1180.0,479.3 1182.0,479.2 1184.0,479.2 1186.0,479.1 1186.2,479.1 1188.0,478.8 1190.0,478.4 1192.0,477.9 1193.8,477.2 1194.0,477.1 1196.0,475.4 1198.0,473.5 1200.0,471.6 1202.0,469.7 1203.8,468.1 1204.0,467.9 1206.0,466.5 1208.0,465.2 1210.0,463.9 1212.0,462.6 1214.0,461.2 1216.0,459.6 1216.2,459.4 1218.0,457.6 1220.0,455.6 1222.0,453.6 1224.0,451.6 1225.0,450.6 1226.0,449.6 1228.0,447.6 1230.0,445.6 1232.0,443.6 1233.8,441.9 1234.0,441.7 1236.0,440.6 1238.0,439.8 1240.0,438.9 1241.2,438.1 1242.0,437.3 1244.0,435.1 1246.0,432.8 1248.0,430.5 1250.0,428.1 1252.0,425.5 1254.0,422.9 1256.0,420.3 1256.2,420.0 1258.0,418.3 1260.0,416.7 1262.0,415.1 1264.0,413.5 1265.0,412.5 1266.0,411.2 1268.0,408.4 1270.0,405.7 1272.0,402.8 1274.0,399.8 1276.0,396.7 1278.0,393.4 1280.0,390.0 1282.0,386.0 1284.0,382.0 1286.0,378.0 1288.0,374.0 1290.0,370.0 1292.0,366.0 1292.5,365.0 1294.0,362.0 1296.0,358.0 1298.0,354.0 1300.0,350.0 1302.0,346.0 1304.0,342.0 1305.0,340.0 1306.0,338.4 1308.0,335.4 1310.0,332.8 1312.0,330.5 1312.5,330.0 1314.0,329.5 1316.0,329.1 1318.0,329.0 1320.0,329.0 1322.0,329.6 1324.0,330.3 1326.0,331.2 1328.0,332.4 1328.8,333.0 1330.0,335.1 1332.0,338.9 1334.0,343.0 1336.0,347.3 1338.0,351.4 1340.0,355.0 1342.0,357.5 1344.0,360.0 1346.0,362.5 1348.0,364.9 1350.0,367.2 1352.0,369.4 1352.5,370.0 1354.0,371.3 1356.0,373.1 1358.0,374.7 1360.0,376.2 1361.2,377.0 1362.0,377.2 1364.0,377.4 1366.0,377.4 1368.0,377.3 1370.0,377.0 1372.0,376.0 1374.0,375.0 1376.0,373.7 1377.5,372.5 1378.0,371.9 1380.0,369.5 1382.0,367.0 1384.0,364.4 1386.0,361.7 1388.0,359.0 1390.0,356.2 1392.0,353.1 1394.0,349.9 1396.0,346.6 1398.0,343.3 1400.0,340.1 1402.0,337.0 1402.5,336.2 1404.0,334.4 1406.0,332.1 1408.0,330.0 1408.8,329.2" fill="none" stroke="#3CB371" stroke-width="1" />
</g>
<rect x="1298.5" y="43.5" width="61" height="18" fill="#fff" stroke="#ff0000" stroke-width="1" shape-rendering="crispEdges"/><text x="1300.3" y="59" font-family="'Liberation Serif','Times New Roman',serif" font-size="17.3" fill="#ff0000" stroke="#ff0000" stroke-width="0.35" textLength="58.2" lengthAdjust="spacingAndGlyphs">161.103</text>
<rect x="1322.5" y="150.5" width="61" height="18" fill="#fff" stroke="#ff0000" stroke-width="1" shape-rendering="crispEdges"/><text x="1324.3" y="166" font-family="'Liberation Serif','Times New Roman',serif" font-size="17.3" fill="#ff0000" stroke="#ff0000" stroke-width="0.35" textLength="58.2" lengthAdjust="spacingAndGlyphs">158.977</text>
<rect x="778.5" y="553.5" width="61" height="18" fill="#fff" stroke="#ff0000" stroke-width="1" shape-rendering="crispEdges"/><text x="780.3" y="569" font-family="'Liberation Serif','Times New Roman',serif" font-size="17.3" fill="#ff0000" stroke="#ff0000" stroke-width="0.35" textLength="58.2" lengthAdjust="spacingAndGlyphs">150.953</text>
<rect x="1188.5" y="100.5" width="73" height="24" fill="#fff" stroke="#ff0000" stroke-width="1" shape-rendering="crispEdges"/><text x="1190.3" y="120.7" font-family="'Liberation Sans',Arial,sans-serif" font-size="22.2" fill="#ff0000" stroke="#ff0000" stroke-width="0.35" textLength="70.4" lengthAdjust="spacingAndGlyphs">159.918</text>
<g shape-rendering="crispEdges" fill="#ff0000">
<rect x="1360.5" y="50.5" width="2" height="3" fill="#fff" stroke="#ff0000"/><rect x="1363" y="52" width="6" height="1" fill="#ff0000"/>
<rect x="1384.5" y="157.5" width="2" height="3" fill="#fff" stroke="#ff0000"/><rect x="1387" y="159" width="7" height="1" fill="#ff0000"/>
<rect x="840" y="562" width="9" height="1" fill="#ff0000"/>
<rect x="1178" y="112" width="10" height="1" fill="#ff0000"/>
</g>
<g shape-rendering="crispEdges">
<rect x="1" y="215" width="1" height="44" fill="#000"/>
<rect x="-1" y="216" width="5" height="37" fill="#000"/>
<rect x="0" y="217" width="3" height="35" fill="#fff"/>
<rect x="9" y="206" width="1" height="39" fill="#000"/>
<rect x="7" y="216" width="5" height="28" fill="#000"/>
<rect x="17" y="237" width="1" height="16" fill="#000"/>
<rect x="15" y="243" width="5" height="5" fill="#000"/>
<rect x="25" y="246" width="1" height="9" fill="#000"/>
<rect x="23" y="247" width="5" height="2" fill="#000"/>
<rect x="33" y="248" width="1" height="18" fill="#000"/>
<rect x="31" y="248" width="5" height="11" fill="#000"/>
<rect x="41" y="237" width="1" height="38" fill="#000"/>
<rect x="39" y="243" width="5" height="16" fill="#000"/>
<rect x="40" y="244" width="3" height="14" fill="#fff"/>
<rect x="49" y="225" width="1" height="25" fill="#000"/>
<rect x="47" y="228" width="5" height="16" fill="#000"/>
<rect x="48" y="229" width="3" height="14" fill="#fff"/>
<rect x="57" y="223" width="1" height="95" fill="#000"/>
<rect x="55" y="228" width="5" height="75" fill="#000"/>
<rect x="65" y="266" width="1" height="26" fill="#000"/>
<rect x="63" y="268" width="5" height="18" fill="#000"/>
<rect x="64" y="269" width="3" height="16" fill="#fff"/>
<rect x="73" y="267" width="1" height="31" fill="#000"/>
<rect x="71" y="267" width="5" height="27" fill="#000"/>
<rect x="81" y="286" width="1" height="23" fill="#000"/>
<rect x="79" y="293" width="5" height="5" fill="#000"/>
<rect x="89" y="297" width="1" height="48" fill="#000"/>
<rect x="87" y="297" width="5" height="31" fill="#000"/>
<rect x="97" y="287" width="1" height="51" fill="#000"/>
<rect x="95" y="300" width="5" height="28" fill="#000"/>
<rect x="96" y="301" width="3" height="26" fill="#fff"/>
<rect x="105" y="282" width="1" height="29" fill="#000"/>
<rect x="103" y="292" width="5" height="9" fill="#000"/>
<rect x="104" y="293" width="3" height="7" fill="#fff"/>
<rect x="113" y="290" width="1" height="12" fill="#000"/>
<rect x="111" y="291" width="5" height="2" fill="#000"/>
<rect x="121" y="288" width="1" height="16" fill="#000"/>
<rect x="119" y="292" width="5" height="6" fill="#000"/>
<rect x="129" y="296" width="1" height="16" fill="#000"/>
<rect x="127" y="297" width="5" height="9" fill="#000"/>
<rect x="137" y="268" width="1" height="42" fill="#000"/>
<rect x="135" y="280" width="5" height="26" fill="#000"/>
<rect x="136" y="281" width="3" height="24" fill="#fff"/>
<rect x="145" y="273" width="1" height="28" fill="#000"/>
<rect x="143" y="280" width="5" height="6" fill="#000"/>
<rect x="153" y="278" width="1" height="11" fill="#000"/>
<rect x="151" y="284" width="5" height="1" fill="#000"/>
<rect x="161" y="278" width="1" height="12" fill="#000"/>
<rect x="159" y="281" width="5" height="3" fill="#000"/>
<rect x="160" y="282" width="3" height="1" fill="#fff"/>
<rect x="169" y="272" width="1" height="11" fill="#000"/>
<rect x="167" y="277" width="5" height="4" fill="#000"/>
<rect x="168" y="278" width="3" height="2" fill="#fff"/>
<rect x="177" y="264" width="1" height="16" fill="#000"/>
<rect x="175" y="270" width="5" height="8" fill="#000"/>
<rect x="176" y="271" width="3" height="6" fill="#fff"/>
<rect x="185" y="254" width="1" height="19" fill="#000"/>
<rect x="183" y="268" width="5" height="3" fill="#000"/>
<rect x="184" y="269" width="3" height="1" fill="#fff"/>
<rect x="193" y="262" width="1" height="31" fill="#000"/>
<rect x="191" y="267" width="5" height="6" fill="#000"/>
<rect x="201" y="260" width="1" height="16" fill="#000"/>
<rect x="199" y="262" width="5" height="11" fill="#000"/>
<rect x="200" y="263" width="3" height="9" fill="#fff"/>
<rect x="209" y="260" width="1" height="18" fill="#000"/>
<rect x="207" y="262" width="5" height="12" fill="#000"/>
<rect x="217" y="260" width="1" height="41" fill="#000"/>
<rect x="215" y="273" width="5" height="28" fill="#000"/>
<rect x="225" y="267" width="1" height="38" fill="#000"/>
<rect x="223" y="272" width="5" height="29" fill="#000"/>
<rect x="224" y="273" width="3" height="27" fill="#fff"/>
<rect x="233" y="268" width="1" height="39" fill="#000"/>
<rect x="231" y="272" width="5" height="9" fill="#000"/>
<rect x="241" y="265" width="1" height="27" fill="#000"/>
<rect x="239" y="280" width="5" height="1" fill="#000"/>
<rect x="249" y="269" width="1" height="17" fill="#000"/>
<rect x="247" y="280" width="5" height="6" fill="#000"/>
<rect x="257" y="280" width="1" height="14" fill="#000"/>
<rect x="255" y="284" width="5" height="8" fill="#000"/>
<rect x="265" y="265" width="1" height="34" fill="#000"/>
<rect x="263" y="273" width="5" height="18" fill="#000"/>
<rect x="264" y="274" width="3" height="16" fill="#fff"/>
<rect x="273" y="266" width="1" height="9" fill="#000"/>
<rect x="271" y="268" width="5" height="6" fill="#000"/>
<rect x="272" y="269" width="3" height="4" fill="#fff"/>
<rect x="281" y="245" width="1" height="28" fill="#000"/>
<rect x="279" y="268" width="5" height="2" fill="#000"/>
<rect x="289" y="266" width="1" height="29" fill="#000"/>
<rect x="287" y="269" width="5" height="21" fill="#000"/>
<rect x="297" y="281" width="1" height="19" fill="#000"/>
<rect x="295" y="283" width="5" height="7" fill="#000"/>
<rect x="296" y="284" width="3" height="5" fill="#fff"/>
<rect x="305" y="295" width="1" height="11" fill="#000"/>
<rect x="303" y="297" width="5" height="1" fill="#000"/>
<rect x="313" y="278" width="1" height="26" fill="#000"/>
<rect x="311" y="282" width="5" height="16" fill="#000"/>
<rect x="312" y="283" width="3" height="14" fill="#fff"/>
<rect x="321" y="272" width="1" height="13" fill="#000"/>
<rect x="319" y="278" width="5" height="5" fill="#000"/>
<rect x="320" y="279" width="3" height="3" fill="#fff"/>
<rect x="329" y="272" width="1" height="24" fill="#000"/>
<rect x="327" y="278" width="5" height="10" fill="#000"/>
<rect x="337" y="281" width="1" height="23" fill="#000"/>
<rect x="335" y="288" width="5" height="9" fill="#000"/>
<rect x="345" y="292" width="1" height="17" fill="#000"/>
<rect x="343" y="296" width="5" height="8" fill="#000"/>
<rect x="353" y="299" width="1" height="36" fill="#000"/>
<rect x="351" y="303" width="5" height="17" fill="#000"/>
<rect x="361" y="306" width="1" height="22" fill="#000"/>
<rect x="359" y="319" width="5" height="6" fill="#000"/>
<rect x="369" y="307" width="1" height="23" fill="#000"/>
<rect x="367" y="324" width="5" height="3" fill="#000"/>
<rect x="377" y="303" width="1" height="29" fill="#000"/>
<rect x="375" y="311" width="5" height="17" fill="#000"/>
<rect x="376" y="312" width="3" height="15" fill="#fff"/>
<rect x="385" y="284" width="1" height="34" fill="#000"/>
<rect x="383" y="291" width="5" height="21" fill="#000"/>
<rect x="384" y="292" width="3" height="19" fill="#fff"/>
<rect x="393" y="286" width="1" height="21" fill="#000"/>
<rect x="391" y="290" width="5" height="2" fill="#000"/>
<rect x="401" y="286" width="1" height="15" fill="#000"/>
<rect x="399" y="291" width="5" height="1" fill="#000"/>
<rect x="409" y="284" width="1" height="12" fill="#000"/>
<rect x="407" y="289" width="5" height="4" fill="#000"/>
<rect x="417" y="278" width="1" height="18" fill="#000"/>
<rect x="415" y="281" width="5" height="12" fill="#000"/>
<rect x="416" y="282" width="3" height="10" fill="#fff"/>
<rect x="425" y="271" width="1" height="22" fill="#000"/>
<rect x="423" y="280" width="5" height="12" fill="#000"/>
<rect x="433" y="282" width="1" height="31" fill="#000"/>
<rect x="431" y="291" width="5" height="20" fill="#000"/>
<rect x="441" y="305" width="1" height="24" fill="#000"/>
<rect x="439" y="310" width="5" height="18" fill="#000"/>
<rect x="449" y="319" width="1" height="12" fill="#000"/>
<rect x="447" y="328" width="5" height="1" fill="#000"/>
<rect x="457" y="315" width="1" height="49" fill="#000"/>
<rect x="455" y="329" width="5" height="32" fill="#000"/>
<rect x="465" y="357" width="1" height="46" fill="#000"/>
<rect x="463" y="360" width="5" height="27" fill="#000"/>
<rect x="473" y="372" width="1" height="66" fill="#000"/>
<rect x="471" y="385" width="5" height="37" fill="#000"/>
<rect x="481" y="413" width="1" height="30" fill="#000"/>
<rect x="479" y="421" width="5" height="17" fill="#000"/>
<rect x="489" y="361" width="1" height="77" fill="#000"/>
<rect x="487" y="369" width="5" height="69" fill="#000"/>
<rect x="488" y="370" width="3" height="67" fill="#fff"/>
<rect x="497" y="362" width="1" height="28" fill="#000"/>
<rect x="495" y="370" width="5" height="15" fill="#000"/>
<rect x="505" y="372" width="1" height="19" fill="#000"/>
<rect x="503" y="375" width="5" height="11" fill="#000"/>
<rect x="504" y="376" width="3" height="9" fill="#fff"/>
<rect x="513" y="370" width="1" height="13" fill="#000"/>
<rect x="511" y="375" width="5" height="1" fill="#000"/>
<rect x="521" y="374" width="1" height="29" fill="#000"/>
<rect x="519" y="375" width="5" height="8" fill="#000"/>
<rect x="529" y="353" width="1" height="34" fill="#000"/>
<rect x="527" y="357" width="5" height="26" fill="#000"/>
<rect x="528" y="358" width="3" height="24" fill="#fff"/>
<rect x="537" y="351" width="1" height="15" fill="#000"/>
<rect x="535" y="357" width="5" height="3" fill="#000"/>
<rect x="545" y="378" width="1" height="35" fill="#000"/>
<rect x="543" y="382" width="5" height="24" fill="#000"/>
<rect x="544" y="383" width="3" height="22" fill="#fff"/>
<rect x="553" y="376" width="1" height="31" fill="#000"/>
<rect x="551" y="382" width="5" height="20" fill="#000"/>
<rect x="561" y="378" width="1" height="24" fill="#000"/>
<rect x="559" y="387" width="5" height="14" fill="#000"/>
<rect x="560" y="388" width="3" height="12" fill="#fff"/>
<rect x="569" y="360" width="1" height="36" fill="#000"/>
<rect x="567" y="372" width="5" height="16" fill="#000"/>
<rect x="568" y="373" width="3" height="14" fill="#fff"/>
<rect x="577" y="365" width="1" height="25" fill="#000"/>
<rect x="575" y="372" width="5" height="11" fill="#000"/>
<rect x="585" y="376" width="1" height="37" fill="#000"/>
<rect x="583" y="382" width="5" height="26" fill="#000"/>
<rect x="593" y="386" width="1" height="24" fill="#000"/>
<rect x="591" y="387" width="5" height="21" fill="#000"/>
<rect x="592" y="388" width="3" height="19" fill="#fff"/>
<rect x="601" y="376" width="1" height="19" fill="#000"/>
<rect x="599" y="386" width="5" height="6" fill="#000"/>
<rect x="609" y="382" width="1" height="15" fill="#000"/>
<rect x="607" y="389" width="5" height="3" fill="#000"/>
<rect x="608" y="390" width="3" height="1" fill="#fff"/>
<rect x="617" y="389" width="1" height="37" fill="#000"/>
<rect x="615" y="389" width="5" height="26" fill="#000"/>
<rect x="625" y="405" width="1" height="44" fill="#000"/>
<rect x="623" y="414" width="5" height="33" fill="#000"/>
<rect x="633" y="438" width="1" height="40" fill="#000"/>
<rect x="631" y="446" width="5" height="20" fill="#000"/>
<rect x="641" y="453" width="1" height="16" fill="#000"/>
<rect x="639" y="453" width="5" height="13" fill="#000"/>
<rect x="640" y="454" width="3" height="11" fill="#fff"/>
<rect x="649" y="438" width="1" height="24" fill="#000"/>
<rect x="647" y="449" width="5" height="6" fill="#000"/>
<rect x="648" y="450" width="3" height="4" fill="#fff"/>
<rect x="657" y="449" width="1" height="21" fill="#000"/>
<rect x="655" y="449" width="5" height="10" fill="#000"/>
<rect x="665" y="426" width="1" height="42" fill="#000"/>
<rect x="663" y="429" width="5" height="29" fill="#000"/>
<rect x="664" y="430" width="3" height="27" fill="#fff"/>
<rect x="673" y="404" width="1" height="31" fill="#000"/>
<rect x="671" y="418" width="5" height="11" fill="#000"/>
<rect x="672" y="419" width="3" height="9" fill="#fff"/>
<rect x="681" y="374" width="1" height="45" fill="#000"/>
<rect x="679" y="380" width="5" height="39" fill="#000"/>
<rect x="680" y="381" width="3" height="37" fill="#fff"/>
<rect x="689" y="364" width="1" height="21" fill="#000"/>
<rect x="687" y="373" width="5" height="9" fill="#000"/>
<rect x="688" y="374" width="3" height="7" fill="#fff"/>
<rect x="697" y="361" width="1" height="18" fill="#000"/>
<rect x="695" y="367" width="5" height="6" fill="#000"/>
<rect x="696" y="368" width="3" height="4" fill="#fff"/>
<rect x="705" y="348" width="1" height="20" fill="#000"/>
<rect x="703" y="361" width="5" height="7" fill="#000"/>
<rect x="704" y="362" width="3" height="5" fill="#fff"/>
<rect x="713" y="353" width="1" height="25" fill="#000"/>
<rect x="711" y="361" width="5" height="11" fill="#000"/>
<rect x="721" y="363" width="1" height="39" fill="#000"/>
<rect x="719" y="371" width="5" height="27" fill="#000"/>
<rect x="729" y="393" width="1" height="23" fill="#000"/>
<rect x="727" y="397" width="5" height="19" fill="#000"/>
<rect x="737" y="401" width="1" height="17" fill="#000"/>
<rect x="735" y="402" width="5" height="12" fill="#000"/>
<rect x="736" y="403" width="3" height="10" fill="#fff"/>
<rect x="745" y="399" width="1" height="34" fill="#000"/>
<rect x="743" y="402" width="5" height="17" fill="#000"/>
<rect x="753" y="403" width="1" height="21" fill="#000"/>
<rect x="751" y="418" width="5" height="2" fill="#000"/>
<rect x="761" y="418" width="1" height="31" fill="#000"/>
<rect x="759" y="419" width="5" height="27" fill="#000"/>
<rect x="769" y="444" width="1" height="84" fill="#000"/>
<rect x="767" y="445" width="5" height="77" fill="#000"/>
<rect x="777" y="510" width="1" height="28" fill="#000"/>
<rect x="775" y="522" width="5" height="5" fill="#000"/>
<rect x="785" y="505" width="1" height="27" fill="#000"/>
<rect x="783" y="510" width="5" height="8" fill="#000"/>
<rect x="793" y="512" width="1" height="26" fill="#000"/>
<rect x="791" y="517" width="5" height="7" fill="#000"/>
<rect x="801" y="499" width="1" height="28" fill="#000"/>
<rect x="799" y="519" width="5" height="5" fill="#000"/>
<rect x="800" y="520" width="3" height="3" fill="#fff"/>
<rect x="809" y="513" width="1" height="40" fill="#000"/>
<rect x="807" y="519" width="5" height="15" fill="#000"/>
<rect x="817" y="501" width="1" height="45" fill="#000"/>
<rect x="815" y="532" width="5" height="2" fill="#000"/>
<rect x="825" y="529" width="1" height="30" fill="#000"/>
<rect x="823" y="533" width="5" height="24" fill="#000"/>
<rect x="833" y="546" width="1" height="17" fill="#000"/>
<rect x="831" y="547" width="5" height="9" fill="#000"/>
<rect x="832" y="548" width="3" height="7" fill="#fff"/>
<rect x="841" y="531" width="1" height="20" fill="#000"/>
<rect x="839" y="535" width="5" height="11" fill="#000"/>
<rect x="840" y="536" width="3" height="9" fill="#fff"/>
<rect x="849" y="532" width="1" height="31" fill="#000"/>
<rect x="847" y="534" width="5" height="21" fill="#000"/>
<rect x="857" y="520" width="1" height="39" fill="#000"/>
<rect x="855" y="526" width="5" height="29" fill="#000"/>
<rect x="856" y="527" width="3" height="27" fill="#fff"/>
<rect x="865" y="516" width="1" height="24" fill="#000"/>
<rect x="863" y="526" width="5" height="8" fill="#000"/>
<rect x="873" y="510" width="1" height="30" fill="#000"/>
<rect x="871" y="525" width="5" height="9" fill="#000"/>
<rect x="872" y="526" width="3" height="7" fill="#fff"/>
<rect x="881" y="523" width="1" height="18" fill="#000"/>
<rect x="879" y="525" width="5" height="8" fill="#000"/>
<rect x="889" y="509" width="1" height="22" fill="#000"/>
<rect x="887" y="519" width="5" height="12" fill="#000"/>
<rect x="888" y="520" width="3" height="10" fill="#fff"/>
<rect x="897" y="511" width="1" height="11" fill="#000"/>
<rect x="895" y="514" width="5" height="6" fill="#000"/>
<rect x="896" y="515" width="3" height="4" fill="#fff"/>
<rect x="905" y="474" width="1" height="46" fill="#000"/>
<rect x="903" y="488" width="5" height="27" fill="#000"/>
<rect x="904" y="489" width="3" height="25" fill="#fff"/>
<rect x="913" y="484" width="1" height="21" fill="#000"/>
<rect x="911" y="489" width="5" height="3" fill="#000"/>
<rect x="921" y="473" width="1" height="23" fill="#000"/>
<rect x="919" y="475" width="5" height="16" fill="#000"/>
<rect x="920" y="476" width="3" height="14" fill="#fff"/>
<rect x="929" y="468" width="1" height="17" fill="#000"/>
<rect x="927" y="469" width="5" height="7" fill="#000"/>
<rect x="928" y="470" width="3" height="5" fill="#fff"/>
<rect x="937" y="462" width="1" height="23" fill="#000"/>
<rect x="935" y="462" width="5" height="7" fill="#000"/>
<rect x="936" y="463" width="3" height="5" fill="#fff"/>
<rect x="945" y="460" width="1" height="12" fill="#000"/>
<rect x="943" y="462" width="5" height="1" fill="#000"/>
<rect x="953" y="463" width="1" height="33" fill="#000"/>
<rect x="951" y="463" width="5" height="20" fill="#000"/>
<rect x="961" y="461" width="1" height="43" fill="#000"/>
<rect x="959" y="482" width="5" height="16" fill="#000"/>
<rect x="969" y="496" width="1" height="14" fill="#000"/>
<rect x="967" y="497" width="5" height="11" fill="#000"/>
<rect x="977" y="497" width="1" height="20" fill="#000"/>
<rect x="975" y="499" width="5" height="9" fill="#000"/>
<rect x="976" y="500" width="3" height="7" fill="#fff"/>
<rect x="985" y="488" width="1" height="23" fill="#000"/>
<rect x="983" y="489" width="5" height="11" fill="#000"/>
<rect x="984" y="490" width="3" height="9" fill="#fff"/>
<rect x="993" y="461" width="1" height="31" fill="#000"/>
<rect x="991" y="482" width="5" height="7" fill="#000"/>
<rect x="992" y="483" width="3" height="5" fill="#fff"/>
<rect x="1001" y="445" width="1" height="39" fill="#000"/>
<rect x="999" y="449" width="5" height="34" fill="#000"/>
<rect x="1000" y="450" width="3" height="32" fill="#fff"/>
<rect x="1009" y="440" width="1" height="31" fill="#000"/>
<rect x="1007" y="449" width="5" height="7" fill="#000"/>
<rect x="1017" y="453" width="1" height="17" fill="#000"/>
<rect x="1015" y="456" width="5" height="5" fill="#000"/>
<rect x="1025" y="438" width="1" height="13" fill="#000"/>
<rect x="1023" y="442" width="5" height="7" fill="#000"/>
<rect x="1024" y="443" width="3" height="5" fill="#fff"/>
<rect x="1033" y="439" width="1" height="12" fill="#000"/>
<rect x="1031" y="441" width="5" height="3" fill="#000"/>
<rect x="1041" y="433" width="1" height="19" fill="#000"/>
<rect x="1039" y="435" width="5" height="10" fill="#000"/>
<rect x="1040" y="436" width="3" height="8" fill="#fff"/>
<rect x="1049" y="412" width="1" height="25" fill="#000"/>
<rect x="1047" y="430" width="5" height="6" fill="#000"/>
<rect x="1048" y="431" width="3" height="4" fill="#fff"/>
<rect x="1057" y="401" width="1" height="30" fill="#000"/>
<rect x="1055" y="412" width="5" height="19" fill="#000"/>
<rect x="1056" y="413" width="3" height="17" fill="#fff"/>
<rect x="1065" y="403" width="1" height="29" fill="#000"/>
<rect x="1063" y="412" width="5" height="16" fill="#000"/>
<rect x="1073" y="416" width="1" height="14" fill="#000"/>
<rect x="1071" y="420" width="5" height="8" fill="#000"/>
<rect x="1072" y="421" width="3" height="6" fill="#fff"/>
<rect x="1081" y="391" width="1" height="33" fill="#000"/>
<rect x="1079" y="392" width="5" height="29" fill="#000"/>
<rect x="1080" y="393" width="3" height="27" fill="#fff"/>
<rect x="1089" y="386" width="1" height="48" fill="#000"/>
<rect x="1087" y="391" width="5" height="33" fill="#000"/>
<rect x="1097" y="403" width="1" height="47" fill="#000"/>
<rect x="1095" y="417" width="5" height="6" fill="#000"/>
<rect x="1096" y="418" width="3" height="4" fill="#fff"/>
<rect x="1105" y="376" width="1" height="44" fill="#000"/>
<rect x="1103" y="389" width="5" height="29" fill="#000"/>
<rect x="1104" y="390" width="3" height="27" fill="#fff"/>
<rect x="1113" y="384" width="1" height="21" fill="#000"/>
<rect x="1111" y="389" width="5" height="4" fill="#000"/>
<rect x="1121" y="391" width="1" height="10" fill="#000"/>
<rect x="1119" y="392" width="5" height="3" fill="#000"/>
<rect x="1129" y="388" width="1" height="9" fill="#000"/>
<rect x="1127" y="394" width="5" height="1" fill="#000"/>
<rect x="1137" y="386" width="1" height="13" fill="#000"/>
<rect x="1135" y="393" width="5" height="1" fill="#000"/>
<rect x="1145" y="364" width="1" height="32" fill="#000"/>
<rect x="1143" y="369" width="5" height="24" fill="#000"/>
<rect x="1144" y="370" width="3" height="22" fill="#fff"/>
<rect x="1153" y="342" width="1" height="36" fill="#000"/>
<rect x="1151" y="351" width="5" height="18" fill="#000"/>
<rect x="1152" y="352" width="3" height="16" fill="#fff"/>
<rect x="1161" y="306" width="1" height="48" fill="#000"/>
<rect x="1159" y="309" width="5" height="42" fill="#000"/>
<rect x="1160" y="310" width="3" height="40" fill="#fff"/>
<rect x="1169" y="295" width="1" height="20" fill="#000"/>
<rect x="1167" y="300" width="5" height="9" fill="#000"/>
<rect x="1168" y="301" width="3" height="7" fill="#fff"/>
<rect x="1177" y="281" width="1" height="31" fill="#000"/>
<rect x="1175" y="299" width="5" height="4" fill="#000"/>
<rect x="1185" y="279" width="1" height="26" fill="#000"/>
<rect x="1183" y="289" width="5" height="14" fill="#000"/>
<rect x="1184" y="290" width="3" height="12" fill="#fff"/>
<rect x="1193" y="274" width="1" height="37" fill="#000"/>
<rect x="1191" y="278" width="5" height="11" fill="#000"/>
<rect x="1192" y="279" width="3" height="9" fill="#fff"/>
<rect x="1201" y="278" width="1" height="60" fill="#000"/>
<rect x="1199" y="278" width="5" height="40" fill="#000"/>
<rect x="1209" y="307" width="1" height="17" fill="#000"/>
<rect x="1207" y="307" width="5" height="11" fill="#000"/>
<rect x="1208" y="308" width="3" height="9" fill="#fff"/>
<rect x="1217" y="305" width="1" height="13" fill="#000"/>
<rect x="1215" y="307" width="5" height="8" fill="#000"/>
<rect x="1225" y="293" width="1" height="23" fill="#000"/>
<rect x="1223" y="294" width="5" height="21" fill="#000"/>
<rect x="1224" y="295" width="3" height="19" fill="#fff"/>
<rect x="1233" y="282" width="1" height="17" fill="#000"/>
<rect x="1231" y="292" width="5" height="3" fill="#000"/>
<rect x="1232" y="293" width="3" height="1" fill="#fff"/>
<rect x="1241" y="286" width="1" height="23" fill="#000"/>
<rect x="1239" y="292" width="5" height="4" fill="#000"/>
<rect x="1249" y="258" width="1" height="38" fill="#000"/>
<rect x="1247" y="261" width="5" height="35" fill="#000"/>
<rect x="1248" y="262" width="3" height="33" fill="#fff"/>
<rect x="1257" y="248" width="1" height="17" fill="#000"/>
<rect x="1255" y="254" width="5" height="7" fill="#000"/>
<rect x="1256" y="255" width="3" height="5" fill="#fff"/>
<rect x="1265" y="255" width="1" height="9" fill="#000"/>
<rect x="1263" y="255" width="5" height="8" fill="#000"/>
<rect x="1273" y="260" width="1" height="11" fill="#000"/>
<rect x="1271" y="263" width="5" height="6" fill="#000"/>
<rect x="1281" y="261" width="1" height="13" fill="#000"/>
<rect x="1279" y="269" width="5" height="1" fill="#000"/>
<rect x="1289" y="260" width="1" height="32" fill="#000"/>
<rect x="1287" y="269" width="5" height="10" fill="#000"/>
<rect x="1297" y="239" width="1" height="42" fill="#000"/>
<rect x="1295" y="245" width="5" height="35" fill="#000"/>
<rect x="1296" y="246" width="3" height="33" fill="#fff"/>
<rect x="1305" y="234" width="1" height="19" fill="#000"/>
<rect x="1303" y="245" width="5" height="1" fill="#000"/>
<rect x="1313" y="234" width="1" height="16" fill="#000"/>
<rect x="1311" y="235" width="5" height="10" fill="#000"/>
<rect x="1312" y="236" width="3" height="8" fill="#fff"/>
<rect x="1321" y="220" width="1" height="17" fill="#000"/>
<rect x="1319" y="224" width="5" height="13" fill="#000"/>
<rect x="1320" y="225" width="3" height="11" fill="#fff"/>
<rect x="1329" y="193" width="1" height="32" fill="#000"/>
<rect x="1327" y="194" width="5" height="30" fill="#000"/>
<rect x="1328" y="195" width="3" height="28" fill="#fff"/>
<rect x="1337" y="118" width="1" height="82" fill="#000"/>
<rect x="1335" y="125" width="5" height="70" fill="#000"/>
<rect x="1336" y="126" width="3" height="68" fill="#fff"/>
<rect x="1345" y="100" width="1" height="42" fill="#000"/>
<rect x="1343" y="109" width="5" height="16" fill="#000"/>
<rect x="1344" y="110" width="3" height="14" fill="#fff"/>
<rect x="1353" y="101" width="1" height="22" fill="#000"/>
<rect x="1351" y="102" width="5" height="7" fill="#000"/>
<rect x="1352" y="103" width="3" height="5" fill="#fff"/>
<rect x="1361" y="57" width="1" height="47" fill="#000"/>
<rect x="1359" y="60" width="5" height="43" fill="#000"/>
<rect x="1360" y="61" width="3" height="41" fill="#fff"/>
<rect x="1369" y="53" width="1" height="37" fill="#000"/>
<rect x="1367" y="60" width="5" height="8" fill="#000"/>
<rect x="1377" y="62" width="1" height="24" fill="#000"/>
<rect x="1375" y="66" width="5" height="17" fill="#000"/>
<rect x="1385" y="79" width="1" height="56" fill="#000"/>
<rect x="1383" y="82" width="5" height="51" fill="#000"/>
<rect x="1393" y="111" width="1" height="40" fill="#000"/>
<rect x="1391" y="114" width="5" height="19" fill="#000"/>
<rect x="1392" y="115" width="3" height="17" fill="#fff"/>
<rect x="1401" y="107" width="1" height="15" fill="#000"/>
<rect x="1399" y="109" width="5" height="5" fill="#000"/>
<rect x="1400" y="110" width="3" height="3" fill="#fff"/>
<rect x="1409" y="107" width="1" height="7" fill="#000"/>
<rect x="1407" y="110" width="5" height="1" fill="#000"/>
</g>
<g clip-path="url(#c2)" shape-rendering="crispEdges">
<rect x="1" y="660" width="1" height="26" fill="#c0c0c0"/>
<rect x="9" y="659" width="1" height="27" fill="#c0c0c0"/>
<rect x="17" y="658" width="1" height="28" fill="#c0c0c0"/>
<rect x="25" y="658" width="1" height="28" fill="#c0c0c0"/>
<rect x="33" y="660" width="1" height="26" fill="#c0c0c0"/>
<rect x="41" y="660" width="1" height="26" fill="#c0c0c0"/>
<rect x="49" y="658" width="1" height="28" fill="#c0c0c0"/>
<rect x="57" y="665" width="1" height="21" fill="#c0c0c0"/>
<rect x="65" y="668" width="1" height="18" fill="#c0c0c0"/>
<rect x="73" y="672" width="1" height="14" fill="#c0c0c0"/>
<rect x="81" y="677" width="1" height="9" fill="#c0c0c0"/>
<rect x="89" y="684" width="1" height="2" fill="#c0c0c0"/>
<rect x="105" y="684" width="1" height="2" fill="#c0c0c0"/>
<rect x="121" y="685" width="1" height="3" fill="#c0c0c0"/>
<rect x="129" y="685" width="1" height="5" fill="#c0c0c0"/>
<rect x="137" y="685" width="1" height="3" fill="#c0c0c0"/>
<rect x="145" y="685" width="1" height="2" fill="#c0c0c0"/>
<rect x="153" y="685" width="1" height="2" fill="#c0c0c0"/>
<rect x="161" y="685" width="1" height="2" fill="#c0c0c0"/>
<rect x="177" y="684" width="1" height="2" fill="#c0c0c0"/>
<rect x="185" y="683" width="1" height="3" fill="#c0c0c0"/>
<rect x="193" y="682" width="1" height="4" fill="#c0c0c0"/>
<rect x="201" y="680" width="1" height="6" fill="#c0c0c0"/>
<rect x="209" y="680" width="1" height="6" fill="#c0c0c0"/>
<rect x="217" y="682" width="1" height="4" fill="#c0c0c0"/>
<rect x="225" y="683" width="1" height="3" fill="#c0c0c0"/>
<rect x="233" y="683" width="1" height="3" fill="#c0c0c0"/>
<rect x="241" y="682" width="1" height="4" fill="#c0c0c0"/>
<rect x="249" y="684" width="1" height="2" fill="#c0c0c0"/>
<rect x="257" y="684" width="1" height="2" fill="#c0c0c0"/>
<rect x="265" y="683" width="1" height="3" fill="#c0c0c0"/>
<rect x="273" y="683" width="1" height="3" fill="#c0c0c0"/>
<rect x="281" y="684" width="1" height="2" fill="#c0c0c0"/>
<rect x="289" y="684" width="1" height="2" fill="#c0c0c0"/>
<rect x="297" y="684" width="1" height="2" fill="#c0c0c0"/>
<rect x="313" y="684" width="1" height="2" fill="#c0c0c0"/>
<rect x="345" y="685" width="1" height="4" fill="#c0c0c0"/>
<rect x="353" y="685" width="1" height="8" fill="#c0c0c0"/>
<rect x="361" y="685" width="1" height="11" fill="#c0c0c0"/>
<rect x="369" y="685" width="1" height="13" fill="#c0c0c0"/>
<rect x="377" y="685" width="1" height="13" fill="#c0c0c0"/>
<rect x="385" y="685" width="1" height="11" fill="#c0c0c0"/>
<rect x="393" y="685" width="1" height="9" fill="#c0c0c0"/>
<rect x="401" y="685" width="1" height="8" fill="#c0c0c0"/>
<rect x="409" y="685" width="1" height="7" fill="#c0c0c0"/>
<rect x="417" y="685" width="1" height="4" fill="#c0c0c0"/>
<rect x="425" y="685" width="1" height="3" fill="#c0c0c0"/>
<rect x="433" y="685" width="1" height="5" fill="#c0c0c0"/>
<rect x="441" y="685" width="1" height="7" fill="#c0c0c0"/>
<rect x="449" y="685" width="1" height="10" fill="#c0c0c0"/>
<rect x="457" y="685" width="1" height="16" fill="#c0c0c0"/>
<rect x="465" y="685" width="1" height="23" fill="#c0c0c0"/>
<rect x="473" y="685" width="1" height="32" fill="#c0c0c0"/>
<rect x="481" y="685" width="1" height="41" fill="#c0c0c0"/>
<rect x="489" y="685" width="1" height="39" fill="#c0c0c0"/>
<rect x="497" y="685" width="1" height="40" fill="#c0c0c0"/>
<rect x="505" y="685" width="1" height="38" fill="#c0c0c0"/>
<rect x="513" y="685" width="1" height="37" fill="#c0c0c0"/>
<rect x="521" y="685" width="1" height="35" fill="#c0c0c0"/>
<rect x="529" y="685" width="1" height="32" fill="#c0c0c0"/>
<rect x="537" y="685" width="1" height="29" fill="#c0c0c0"/>
<rect x="545" y="685" width="1" height="29" fill="#c0c0c0"/>
<rect x="553" y="685" width="1" height="30" fill="#c0c0c0"/>
<rect x="561" y="685" width="1" height="30" fill="#c0c0c0"/>
<rect x="569" y="685" width="1" height="27" fill="#c0c0c0"/>
<rect x="577" y="685" width="1" height="26" fill="#c0c0c0"/>
<rect x="585" y="685" width="1" height="28" fill="#c0c0c0"/>
<rect x="593" y="685" width="1" height="26" fill="#c0c0c0"/>
<rect x="601" y="685" width="1" height="25" fill="#c0c0c0"/>
<rect x="609" y="685" width="1" height="24" fill="#c0c0c0"/>
<rect x="617" y="685" width="1" height="26" fill="#c0c0c0"/>
<rect x="625" y="685" width="1" height="30" fill="#c0c0c0"/>
<rect x="633" y="685" width="1" height="36" fill="#c0c0c0"/>
<rect x="641" y="685" width="1" height="38" fill="#c0c0c0"/>
<rect x="649" y="685" width="1" height="40" fill="#c0c0c0"/>
<rect x="657" y="685" width="1" height="41" fill="#c0c0c0"/>
<rect x="665" y="685" width="1" height="38" fill="#c0c0c0"/>
<rect x="673" y="685" width="1" height="34" fill="#c0c0c0"/>
<rect x="681" y="685" width="1" height="27" fill="#c0c0c0"/>
<rect x="689" y="685" width="1" height="20" fill="#c0c0c0"/>
<rect x="697" y="685" width="1" height="13" fill="#c0c0c0"/>
<rect x="705" y="685" width="1" height="7" fill="#c0c0c0"/>
<rect x="713" y="685" width="1" height="4" fill="#c0c0c0"/>
<rect x="721" y="685" width="1" height="4" fill="#c0c0c0"/>
<rect x="729" y="685" width="1" height="6" fill="#c0c0c0"/>
<rect x="737" y="685" width="1" height="6" fill="#c0c0c0"/>
<rect x="745" y="685" width="1" height="8" fill="#c0c0c0"/>
<rect x="753" y="685" width="1" height="9" fill="#c0c0c0"/>
<rect x="761" y="685" width="1" height="13" fill="#c0c0c0"/>
<rect x="769" y="685" width="1" height="25" fill="#c0c0c0"/>
<rect x="777" y="685" width="1" height="34" fill="#c0c0c0"/>
<rect x="785" y="685" width="1" height="40" fill="#c0c0c0"/>
<rect x="793" y="685" width="1" height="45" fill="#c0c0c0"/>
<rect x="801" y="685" width="1" height="48" fill="#c0c0c0"/>
<rect x="809" y="685" width="1" height="51" fill="#c0c0c0"/>
<rect x="817" y="685" width="1" height="53" fill="#c0c0c0"/>
<rect x="825" y="685" width="1" height="57" fill="#c0c0c0"/>
<rect x="833" y="685" width="1" height="58" fill="#c0c0c0"/>
<rect x="841" y="685" width="1" height="57" fill="#c0c0c0"/>
<rect x="849" y="685" width="1" height="57" fill="#c0c0c0"/>
<rect x="857" y="685" width="1" height="54" fill="#c0c0c0"/>
<rect x="865" y="685" width="1" height="51" fill="#c0c0c0"/>
<rect x="873" y="685" width="1" height="48" fill="#c0c0c0"/>
<rect x="881" y="685" width="1" height="46" fill="#c0c0c0"/>
<rect x="889" y="685" width="1" height="42" fill="#c0c0c0"/>
<rect x="897" y="685" width="1" height="38" fill="#c0c0c0"/>
<rect x="905" y="685" width="1" height="31" fill="#c0c0c0"/>
<rect x="913" y="685" width="1" height="26" fill="#c0c0c0"/>
<rect x="921" y="685" width="1" height="20" fill="#c0c0c0"/>
<rect x="929" y="685" width="1" height="14" fill="#c0c0c0"/>
<rect x="937" y="685" width="1" height="9" fill="#c0c0c0"/>
<rect x="945" y="685" width="1" height="4" fill="#c0c0c0"/>
<rect x="953" y="685" width="1" height="3" fill="#c0c0c0"/>
<rect x="961" y="685" width="1" height="4" fill="#c0c0c0"/>
<rect x="969" y="685" width="1" height="6" fill="#c0c0c0"/>
<rect x="977" y="685" width="1" height="6" fill="#c0c0c0"/>
<rect x="985" y="685" width="1" height="5" fill="#c0c0c0"/>
<rect x="993" y="685" width="1" height="3" fill="#c0c0c0"/>
<rect x="1001" y="684" width="1" height="2" fill="#c0c0c0"/>
<rect x="1009" y="681" width="1" height="5" fill="#c0c0c0"/>
<rect x="1017" y="679" width="1" height="7" fill="#c0c0c0"/>
<rect x="1025" y="677" width="1" height="9" fill="#c0c0c0"/>
<rect x="1033" y="673" width="1" height="13" fill="#c0c0c0"/>
<rect x="1041" y="670" width="1" height="16" fill="#c0c0c0"/>
<rect x="1049" y="668" width="1" height="18" fill="#c0c0c0"/>
<rect x="1057" y="664" width="1" height="22" fill="#c0c0c0"/>
<rect x="1065" y="663" width="1" height="23" fill="#c0c0c0"/>
<rect x="1073" y="662" width="1" height="24" fill="#c0c0c0"/>
<rect x="1081" y="658" width="1" height="28" fill="#c0c0c0"/>
<rect x="1089" y="658" width="1" height="28" fill="#c0c0c0"/>
<rect x="1097" y="659" width="1" height="27" fill="#c0c0c0"/>
<rect x="1105" y="656" width="1" height="30" fill="#c0c0c0"/>
<rect x="1113" y="655" width="1" height="31" fill="#c0c0c0"/>
<rect x="1121" y="654" width="1" height="32" fill="#c0c0c0"/>
<rect x="1129" y="654" width="1" height="32" fill="#c0c0c0"/>
<rect x="1137" y="654" width="1" height="32" fill="#c0c0c0"/>
<rect x="1145" y="652" width="1" height="34" fill="#c0c0c0"/>
<rect x="1153" y="649" width="1" height="37" fill="#c0c0c0"/>
<rect x="1161" y="642" width="1" height="44" fill="#c0c0c0"/>
<rect x="1169" y="636" width="1" height="50" fill="#c0c0c0"/>
<rect x="1177" y="632" width="1" height="54" fill="#c0c0c0"/>
<rect x="1185" y="628" width="1" height="58" fill="#c0c0c0"/>
<rect x="1193" y="624" width="1" height="62" fill="#c0c0c0"/>
<rect x="1201" y="627" width="1" height="59" fill="#c0c0c0"/>
<rect x="1209" y="628" width="1" height="58" fill="#c0c0c0"/>
<rect x="1217" y="629" width="1" height="57" fill="#c0c0c0"/>
<rect x="1225" y="630" width="1" height="56" fill="#c0c0c0"/>
<rect x="1233" y="631" width="1" height="55" fill="#c0c0c0"/>
<rect x="1241" y="633" width="1" height="53" fill="#c0c0c0"/>
<rect x="1249" y="631" width="1" height="55" fill="#c0c0c0"/>
<rect x="1257" y="629" width="1" height="57" fill="#c0c0c0"/>
<rect x="1265" y="630" width="1" height="56" fill="#c0c0c0"/>
<rect x="1273" y="631" width="1" height="55" fill="#c0c0c0"/>
<rect x="1281" y="632" width="1" height="54" fill="#c0c0c0"/>
<rect x="1289" y="636" width="1" height="50" fill="#c0c0c0"/>
<rect x="1297" y="635" width="1" height="51" fill="#c0c0c0"/>
<rect x="1305" y="635" width="1" height="51" fill="#c0c0c0"/>
<rect x="1313" y="634" width="1" height="52" fill="#c0c0c0"/>
<rect x="1321" y="634" width="1" height="52" fill="#c0c0c0"/>
<rect x="1329" y="630" width="1" height="56" fill="#c0c0c0"/>
<rect x="1337" y="619" width="1" height="67" fill="#c0c0c0"/>
<rect x="1345" y="610" width="1" height="76" fill="#c0c0c0"/>
<rect x="1353" y="604" width="1" height="82" fill="#c0c0c0"/>
<rect x="1361" y="594" width="1" height="92" fill="#c0c0c0"/>
<rect x="1369" y="589" width="1" height="97" fill="#c0c0c0"/>
<rect x="1377" y="587" width="1" height="99" fill="#c0c0c0"/>
<rect x="1385" y="594" width="1" height="92" fill="#c0c0c0"/>
<rect x="1393" y="596" width="1" height="90" fill="#c0c0c0"/>
<rect x="1401" y="600" width="1" height="86" fill="#c0c0c0"/>
<rect x="1409" y="603" width="1" height="83" fill="#c0c0c0"/>
<polyline points="0.0,666.0 4.0,665.6 8.0,665.2 12.0,664.8 12.5,664.8 16.0,664.3 20.0,663.7 24.0,663.1 25.0,663.0 28.0,662.8 32.0,662.6 36.0,662.4 37.5,662.2 40.0,661.9 44.0,661.3 48.0,660.8 50.0,660.5 52.0,660.4 56.0,660.3 60.0,660.3 64.0,660.4 67.5,660.5 68.0,660.6 72.0,661.2 76.0,661.9 80.0,662.7 84.0,663.7 85.0,664.0 88.0,665.4 92.0,667.5 95.0,669.0 96.0,669.3 100.0,670.7 104.0,672.0 108.0,673.3 110.0,674.0 112.0,674.8 116.0,676.6 120.0,678.4 124.0,680.1 125.0,680.5 128.0,681.5 132.0,682.8 136.0,684.1 140.0,685.2 144.0,686.1 148.0,686.8 152.0,687.4 152.5,687.5 156.0,687.6 160.0,687.7 164.0,687.7 168.0,687.7 172.0,687.6 175.0,687.5 176.0,687.4 180.0,687.0 184.0,686.6 188.0,686.2 190.0,686.0 192.0,685.7 196.0,685.1 200.0,684.5 204.0,683.9 207.5,683.5 208.0,683.5 212.0,683.3 216.0,683.2 220.0,683.1 224.0,683.0 225.0,683.0 228.0,682.8 232.0,682.5 236.0,682.2 240.0,681.9 242.5,681.8 244.0,681.8 248.0,681.9 252.0,682.1 256.0,682.3 260.0,682.6 262.5,682.8 264.0,682.9 268.0,683.3 272.0,683.7 275.0,684.0 276.0,684.0 280.0,684.0 284.0,684.0 288.0,684.0 292.0,684.0 296.0,684.0 300.0,684.0 304.0,684.1 308.0,684.2 312.0,684.4 316.0,684.5 320.0,684.6 324.0,684.7 325.0,684.8 328.0,684.8 332.0,685.0 336.0,685.1 340.0,685.3 344.0,685.4 345.0,685.5 348.0,686.0 352.0,686.8 356.0,687.7 360.0,688.5 364.0,689.2 368.0,689.9 372.0,690.5 375.0,691.0 376.0,691.1 380.0,691.7 384.0,692.2 388.0,692.8 390.0,693.0 392.0,693.2 396.0,693.5 400.0,693.9 404.0,694.2 405.0,694.2 408.0,694.4 412.0,694.7 416.0,694.8 420.0,694.4 424.0,694.0 428.0,693.5 428.5,693.5 432.0,693.2 436.0,692.9 440.0,692.6 441.0,692.5 444.0,692.5 448.0,692.5 452.0,692.6 456.0,692.8 460.0,693.3 464.0,694.1 468.0,695.0 471.0,696.0 472.0,696.5 476.0,698.5 480.0,700.5 481.0,701.0 484.0,702.5 488.0,704.5 492.0,706.5 493.5,707.2 496.0,708.5 500.0,710.5 504.0,712.5 506.0,713.5 508.0,714.4 512.0,716.1 516.0,717.6 518.5,718.5 520.0,718.8 524.0,719.6 528.0,720.2 532.0,720.8 533.5,721.0 536.0,721.2 540.0,721.4 544.0,721.5 546.0,721.5 548.0,721.1 552.0,720.0 556.0,719.0 560.0,718.5 564.0,718.1 568.0,717.7 572.0,717.2 576.0,716.8 580.0,716.0 584.0,715.2 588.0,714.4 592.0,713.7 593.5,713.5 596.0,713.3 600.0,713.1 604.0,713.0 608.0,712.8 611.0,712.8 612.0,712.7 616.0,712.7 620.0,712.7 624.0,712.7 628.0,712.7 628.5,712.8 632.0,713.1 636.0,713.6 640.0,714.1 641.0,714.2 644.0,714.8 648.0,715.4 652.0,716.1 656.0,716.8 660.0,717.4 664.0,718.1 668.0,718.8 671.0,719.2 672.0,719.4 676.0,719.9 680.0,720.3 683.5,720.5 684.0,720.4 688.0,719.8 692.0,718.9 693.5,718.5 696.0,717.8 700.0,716.6 703.5,715.5 704.0,715.3 708.0,713.5 712.0,711.6 716.0,709.8 720.0,707.8 724.0,705.7 728.0,703.7 728.5,703.5 732.0,701.9 736.0,700.0 740.0,698.2 741.0,697.8 744.0,696.6 748.0,695.2 752.0,693.9 753.5,693.5 756.0,693.3 760.0,693.2 764.0,693.5 768.0,693.9 768.5,694.0 772.0,695.2 776.0,696.7 778.5,697.8 780.0,698.6 784.0,700.8 788.0,703.1 791.0,704.8 792.0,705.3 796.0,707.2 800.0,709.2 803.5,711.0 804.0,711.3 808.0,713.8 812.0,716.4 816.0,719.0 820.0,721.6 824.0,724.3 828.0,726.9 828.5,727.2 832.0,729.6 836.0,732.4 839.5,734.8 840.0,735.0 844.0,736.4 848.0,737.4 849.5,737.8 852.0,738.1 856.0,738.7 860.0,739.3 864.0,739.7 864.5,739.8 868.0,739.8 872.0,739.7 876.0,739.5 877.0,739.5 880.0,739.1 884.0,738.6 888.0,738.0 892.0,737.2 896.0,736.1 900.0,734.9 904.0,733.5 907.0,732.2 908.0,731.7 912.0,729.6 916.0,727.4 919.5,725.5 920.0,725.2 924.0,723.0 928.0,720.7 932.0,718.5 936.0,716.1 940.0,713.6 944.0,711.3 944.5,711.0 948.0,709.2 952.0,707.2 956.0,705.2 957.0,704.8 960.0,703.2 964.0,701.2 968.0,699.2 969.5,698.5 972.0,697.5 976.0,696.0 980.0,694.7 982.0,694.0 984.0,693.5 988.0,692.5 992.0,691.5 994.5,691.0 996.0,690.8 1000.0,690.2 1004.0,689.7 1008.0,689.1 1012.0,688.5 1016.0,687.6 1020.0,686.8 1024.0,685.9 1027.0,685.2 1028.0,685.0 1032.0,684.3 1036.0,683.5 1039.5,682.8 1040.0,682.6 1044.0,680.9 1048.0,679.1 1052.0,677.2 1056.0,675.7 1060.0,674.2 1062.0,673.5 1064.0,673.0 1068.0,672.3 1072.0,671.6 1074.5,671.0 1076.0,670.4 1080.0,668.6 1084.0,666.9 1084.5,666.8 1088.0,665.8 1092.0,664.9 1094.5,664.2 1096.0,663.9 1100.0,663.0 1104.0,662.2 1107.0,661.5 1108.0,661.3 1112.0,660.3 1116.0,659.3 1119.5,658.5 1120.0,658.4 1124.0,658.0 1128.0,657.7 1132.0,657.2 1136.0,656.6 1140.0,655.9 1144.0,655.2 1147.0,654.8 1148.0,654.6 1152.0,653.9 1156.0,653.2 1160.0,652.6 1162.0,652.2 1164.0,651.6 1168.0,650.1 1172.0,648.5 1176.0,646.8 1180.0,645.1 1182.0,644.2 1184.0,643.6 1188.0,642.6 1192.0,641.5 1196.0,639.8 1200.0,637.9 1204.0,636.2 1204.5,636.0 1208.0,635.2 1212.0,634.5 1216.0,633.7 1217.0,633.5 1220.0,632.5 1224.0,631.2 1227.0,630.2 1228.0,630.1 1232.0,629.5 1236.0,629.0 1240.0,628.7 1242.0,628.5 1244.0,628.5 1248.0,628.5 1252.0,628.5 1256.0,628.5 1260.0,628.5 1264.0,628.7 1268.0,628.8 1272.0,629.1 1275.0,629.2 1276.0,629.5 1280.0,630.5 1284.0,630.7 1288.0,630.9 1292.0,631.1 1296.0,631.2 1300.0,631.4 1302.5,631.5 1304.0,631.6 1308.0,631.7 1312.0,631.8 1316.0,632.0 1320.0,632.1 1324.0,632.2 1325.0,632.2 1328.0,632.2 1332.0,631.9 1335.0,631.5 1336.0,631.2 1340.0,629.8 1344.0,628.3 1345.0,628.0 1348.0,627.0 1352.0,625.8 1355.0,624.8 1356.0,624.2 1360.0,621.9 1362.5,620.2 1364.0,619.2 1368.0,616.2 1370.0,614.8 1372.0,613.4 1376.0,610.9 1380.0,608.5 1384.0,606.5 1388.0,604.5 1390.0,603.5 1392.0,602.5 1396.0,600.5 1400.0,598.5 1404.0,597.0 1408.0,595.8 1409.0,595.5" fill="none" stroke="#ff0000" stroke-width="1" stroke-dasharray="3 3"/>
</g>
<g clip-path="url(#c3)" shape-rendering="crispEdges">
<line x1="0" y1="789.5" x2="1652" y2="789.5" stroke="#c0c0c0" stroke-width="1" stroke-dasharray="3 3"/>
<line x1="0" y1="840.5" x2="1652" y2="840.5" stroke="#c0c0c0" stroke-width="1" stroke-dasharray="3 3"/>
<line x1="0" y1="901.5" x2="1652" y2="901.5" stroke="#c0c0c0" stroke-width="1" stroke-dasharray="3 3"/>
<polyline points="1.5,799.0 9.5,817.5 17.5,820.2 25.5,820.2 33.5,827.0 41.5,820.2 49.5,815.8 57.5,850.2 65.5,837.5 73.5,846.2 81.5,847.5 89.5,857.5 97.5,846.5 105.5,843.8 113.5,843.5 121.5,845.2 129.5,848.8 137.5,838.8 145.5,840.0 153.5,839.5 161.5,838.5 169.5,836.5 177.5,833.5 185.5,832.2 193.5,834.0 201.5,829.5 209.5,835.8 217.5,850.2 225.5,836.5 233.5,840.0 241.5,840.5 249.5,842.5 257.5,846.5 265.5,836.5 273.5,833.2 281.5,834.5 289.5,846.5 297.5,842.5 305.5,850.2 313.5,841.5 321.5,838.8 329.5,845.0 337.5,849.5 345.5,853.2 353.5,861.2 361.5,863.2 369.5,864.5 377.5,852.0 385.5,839.5 393.5,838.5 401.5,838.5 409.5,840.0 417.5,832.5 425.5,840.0 433.5,852.5 441.5,861.2 449.5,861.5 457.5,874.5 465.5,882.5 473.5,890.2 481.5,893.8 489.5,856.5 497.5,860.2 505.5,856.5 513.5,856.5 521.5,858.5 529.5,847.5 537.5,847.5 545.5,856.5 553.5,862.2 561.5,855.2 569.5,848.5 577.5,852.5 585.5,860.5 593.5,851.5 601.5,852.8 609.5,851.5 617.5,860.8 625.5,870.2 633.5,874.5 641.5,868.2 649.5,866.5 657.5,868.5 665.5,854.0 673.5,848.2 681.5,834.5 689.5,831.2 697.5,829.5 705.5,827.2 713.5,832.5 721.5,844.0 729.5,850.5 737.5,844.5 745.5,851.5 753.5,851.5 761.5,860.0 769.5,879.5 777.5,879.5 785.5,875.5 793.5,876.5 801.5,874.5 809.5,877.5 817.5,877.5 825.5,882.2 833.5,878.2 841.5,870.5 849.5,875.5 857.5,860.5 865.5,862.5 873.5,858.5 881.5,860.5 889.5,853.2 897.5,851.2 905.5,838.5 913.5,840.0 921.5,833.2 929.5,830.0 937.5,827.0 945.5,828.2 953.5,838.2 961.5,846.5 969.5,851.5 977.5,846.5 985.5,840.8 993.5,837.5 1001.5,822.5 1009.5,826.2 1017.5,829.8 1025.5,821.5 1033.5,822.5 1041.5,819.5 1049.5,816.5 1057.5,810.5 1065.5,820.5 1073.5,817.2 1081.5,807.5 1089.5,826.5 1097.5,824.5 1105.5,814.5 1113.5,817.5 1121.5,818.5 1129.5,818.5 1137.5,817.5 1145.5,808.8 1153.5,802.5 1161.5,793.2 1169.5,791.2 1177.5,793.8 1185.5,790.8 1193.5,788.2 1201.5,814.5 1209.5,811.5 1217.5,815.5 1225.5,810.0 1233.5,808.5 1241.5,811.5 1249.5,801.2 1257.5,800.5 1265.5,805.2 1273.5,808.5 1281.5,810.5 1289.5,816.5 1297.5,805.5 1305.5,805.2 1313.5,802.0 1321.5,800.0 1329.5,792.0 1337.5,782.0 1345.5,780.2 1353.5,779.0 1361.5,774.5 1369.5,778.2 1377.5,788.2 1385.5,812.8 1393.5,809.5 1401.5,808.5 1409.5,809.5" fill="none" stroke="#1e90ff" stroke-width="1" />
</g>
<g shape-rendering="crispEdges">
<line x1="1257.2" y1="285.4" x2="1364.5" y2="73.0" stroke="#ff0000" stroke-width="3.6"/><polygon points="1369.5,63.2 1368.2,76.0 1360.0,71.8" fill="#ff0000"/>
<line x1="1369.5" y1="63.2" x2="1391.6" y2="148.2" stroke="#ff0000" stroke-width="3.5"/><polygon points="1394.4,158.8 1386.9,148.3 1395.8,146.0" fill="#ff0000"/>
<line x1="1394.4" y1="158.8" x2="1427.9" y2="97.1" stroke="#ff0000" stroke-width="3.5"/><polygon points="1433.2,87.4 1431.5,100.1 1423.4,95.7" fill="#ff0000"/>
<line x1="1351.0" y1="589.4" x2="1401.3" y2="594.3" stroke="#ff0000" stroke-width="3.1"/><polygon points="1412.0,595.4 1399.8,598.6 1400.7,589.9" fill="#ff0000"/>
<line x1="1362.5" y1="773.9" x2="1379.0" y2="809.9" stroke="#ff0000" stroke-width="3"/><polygon points="1383.5,819.7 1374.4,810.9 1382.7,807.1" fill="#ff0000"/>
<line x1="1383.5" y1="819.7" x2="1405.9" y2="810.3" stroke="#ff0000" stroke-width="3"/><polygon points="1415.8,806.1 1406.7,814.9 1403.2,806.5" fill="#ff0000"/>
<rect x="1393" y="140" width="1" height="8" fill="#000"/>
</g>
<g shape-rendering="crispEdges" fill="#000">
<rect x="0" y="26" width="1653" height="1" fill="#000"/>
<rect x="1652" y="26" width="1" height="902" fill="#000"/>
<rect x="0" y="575" width="1653" height="1" fill="#000"/>
<rect x="0" y="576" width="1653" height="1" fill="#fff"/>
<rect x="0" y="577" width="1653" height="1" fill="#000"/>
<rect x="0" y="751" width="1653" height="1" fill="#000"/>
<rect x="0" y="752" width="1653" height="1" fill="#fff"/>
<rect x="0" y="753" width="1653" height="1" fill="#000"/>
<rect x="0" y="927" width="1653" height="1" fill="#000"/>
<rect x="1653" y="176" width="2" height="1" fill="#000"/>
<rect x="1653" y="209" width="2" height="1" fill="#000"/>
<rect x="1653" y="242" width="2" height="1" fill="#000"/>
<rect x="1653" y="275" width="2" height="1" fill="#000"/>
<rect x="1653" y="308" width="2" height="1" fill="#000"/>
<rect x="1653" y="341" width="2" height="1" fill="#000"/>
<rect x="1653" y="374" width="2" height="1" fill="#000"/>
<rect x="1653" y="407" width="2" height="1" fill="#000"/>
<rect x="1653" y="440" width="2" height="1" fill="#000"/>
<rect x="1653" y="473" width="2" height="1" fill="#000"/>
<rect x="1653" y="506" width="2" height="1" fill="#000"/>
<rect x="1653" y="539" width="2" height="1" fill="#000"/>
<rect x="1653" y="572" width="2" height="1" fill="#000"/>
<rect x="1653" y="44" width="2" height="1" fill="#000"/>
<rect x="1653" y="77" width="2" height="1" fill="#000"/>
<rect x="1653" y="110" width="2" height="1" fill="#000"/>
<rect x="1653" y="143" width="2" height="1" fill="#000"/>
<rect x="1653" y="579" width="1" height="1" fill="#000"/>
<rect x="1653" y="685" width="2" height="1" fill="#000"/>
<rect x="1653" y="750" width="2" height="1" fill="#000"/>
<rect x="1653" y="754" width="2" height="1" fill="#000"/>
<rect x="1653" y="789" width="2" height="1" fill="#000"/>
<rect x="1653" y="840" width="2" height="1" fill="#000"/>
<rect x="1653" y="901" width="2" height="1" fill="#000"/>
<rect x="1653" y="926" width="2" height="1" fill="#000"/>
<rect x="57" y="928" width="1" height="3" fill="#000"/>
<rect x="121" y="928" width="1" height="3" fill="#000"/>
<rect x="185" y="928" width="1" height="3" fill="#000"/>
<rect x="249" y="928" width="1" height="3" fill="#000"/>
<rect x="313" y="928" width="1" height="3" fill="#000"/>
<rect x="377" y="928" width="1" height="3" fill="#000"/>
<rect x="441" y="928" width="1" height="3" fill="#000"/>
<rect x="505" y="928" width="1" height="3" fill="#000"/>
<rect x="569" y="928" width="1" height="3" fill="#000"/>
<rect x="633" y="928" width="1" height="3" fill="#000"/>
<rect x="697" y="928" width="1" height="3" fill="#000"/>
<rect x="761" y="928" width="1" height="3" fill="#000"/>
<rect x="825" y="928" width="1" height="3" fill="#000"/>
<rect x="889" y="928" width="1" height="3" fill="#000"/>
<rect x="953" y="928" width="1" height="3" fill="#000"/>
<rect x="1017" y="928" width="1" height="3" fill="#000"/>
<rect x="1081" y="928" width="1" height="3" fill="#000"/>
<rect x="1145" y="928" width="1" height="3" fill="#000"/>
<rect x="1209" y="928" width="1" height="3" fill="#000"/>
<rect x="1273" y="928" width="1" height="3" fill="#000"/>
<rect x="1337" y="928" width="1" height="3" fill="#000"/>
<rect x="1401" y="928" width="1" height="3" fill="#000"/>
</g>
<polygon points="1413,27 1425,27 1419,33" fill="#c0c0c0"/>
<g font-family="'Liberation Sans',Arial,sans-serif" font-size="40" fill="#000" text-rendering="geometricPrecision">
<text transform="translate(1658.0,180) scale(0.2319,0.2542)" fill="#000" stroke="#000" stroke-width="1.1" >158.645</text>
<text transform="translate(1658.0,213) scale(0.2319,0.2542)" fill="#000" stroke="#000" stroke-width="1.1" >157.985</text>
<text transform="translate(1658.0,246) scale(0.2319,0.2542)" fill="#000" stroke="#000" stroke-width="1.1" >157.325</text>
<text transform="translate(1658.0,279) scale(0.2319,0.2542)" fill="#000" stroke="#000" stroke-width="1.1" >156.665</text>
<text transform="translate(1658.0,312) scale(0.2319,0.2542)" fill="#000" stroke="#000" stroke-width="1.1" >156.020</text>
<text transform="translate(1658.0,345) scale(0.2319,0.2542)" fill="#000" stroke="#000" stroke-width="1.1" >155.360</text>
<text transform="translate(1658.0,378) scale(0.2319,0.2542)" fill="#000" stroke="#000" stroke-width="1.1" >154.700</text>
<text transform="translate(1658.0,411) scale(0.2319,0.2542)" fill="#000" stroke="#000" stroke-width="1.1" >154.040</text>
<text transform="translate(1658.0,444) scale(0.2319,0.2542)" fill="#000" stroke="#000" stroke-width="1.1" >153.380</text>
<text transform="translate(1658.0,477) scale(0.2319,0.2542)" fill="#000" stroke="#000" stroke-width="1.1" >152.735</text>
<text transform="translate(1658.0,510) scale(0.2319,0.2542)" fill="#000" stroke="#000" stroke-width="1.1" >152.075</text>
<text transform="translate(1658.0,543) scale(0.2319,0.2542)" fill="#000" stroke="#000" stroke-width="1.1" >151.415</text>
<text transform="translate(1658.0,576) scale(0.2319,0.2542)" fill="#000" stroke="#000" stroke-width="1.1" >150.755</text>
<text transform="translate(1658.0,48) scale(0.2319,0.2542)" fill="#000" stroke="#000" stroke-width="1.1" >161.285</text>
<text transform="translate(1658.0,81) scale(0.2319,0.2542)" fill="#000" stroke="#000" stroke-width="1.1" >160.625</text>
<text transform="translate(1658.0,114) scale(0.2319,0.2542)" fill="#000" stroke="#000" stroke-width="1.1" >159.965</text>
<text transform="translate(1658.0,147) scale(0.2319,0.2542)" fill="#000" stroke="#000" stroke-width="1.1" >159.305</text>
<text transform="translate(1656.6,588) scale(0.2319,0.2542)" fill="#000" stroke="#000" stroke-width="1.1" >1.4912</text><text transform="translate(1656.0,689) scale(0.2319,0.2542)" fill="#000" stroke="#000" stroke-width="1.1" >0.00</text><text transform="translate(1655.8,748) scale(0.2319,0.2542)" fill="#000" stroke="#000" stroke-width="1.1" >-0.9167</text>
<text transform="translate(1656.2,764) scale(0.2319,0.2542)" fill="#000" stroke="#000" stroke-width="1.1" >100</text><text transform="translate(1655.4,793) scale(0.2319,0.2542)" fill="#000" stroke="#000" stroke-width="1.1" >80</text><text transform="translate(1655.0,844) scale(0.2319,0.2542)" fill="#000" stroke="#000" stroke-width="1.1" >50</text><text transform="translate(1655.2,905) scale(0.2319,0.2542)" fill="#000" stroke="#000" stroke-width="1.1" >15</text><text transform="translate(1656.2,924) scale(0.2319,0.2542)" fill="#000" stroke="#000" stroke-width="1.1" >0</text>
<text transform="translate(-7.3,941) scale(0.2314,0.2542)" fill="#000" stroke="#000" stroke-width="1.1" >10 Feb 2022</text>
<text transform="translate(56.7,941) scale(0.2314,0.2542)" fill="#000" stroke="#000" stroke-width="1.1" >11 Feb 16:00</text>
<text transform="translate(120.7,941) scale(0.2314,0.2542)" fill="#000" stroke="#000" stroke-width="1.1" >15 Feb 00:00</text>
<text transform="translate(184.7,941) scale(0.2314,0.2542)" fill="#000" stroke="#000" stroke-width="1.1" >16 Feb 08:00</text>
<text transform="translate(248.7,941) scale(0.2314,0.2542)" fill="#000" stroke="#000" stroke-width="1.1" >17 Feb 16:00</text>
<text transform="translate(312.7,941) scale(0.2314,0.2542)" fill="#000" stroke="#000" stroke-width="1.1" >21 Feb 00:00</text>
<text transform="translate(376.7,941) scale(0.2314,0.2542)" fill="#000" stroke="#000" stroke-width="1.1" >22 Feb 08:00</text>
<text transform="translate(440.7,941) scale(0.2314,0.2542)" fill="#000" stroke="#000" stroke-width="1.1" >23 Feb 16:00</text>
<text transform="translate(504.7,941) scale(0.2314,0.2542)" fill="#000" stroke="#000" stroke-width="1.1" >25 Feb 00:00</text>
<text transform="translate(568.7,941) scale(0.2314,0.2542)" fill="#000" stroke="#000" stroke-width="1.1" >28 Feb 08:00</text>
<text transform="translate(632.7,941) scale(0.2314,0.2542)" fill="#000" stroke="#000" stroke-width="1.1" >1 Mar 16:00</text>
<text transform="translate(696.7,941) scale(0.2314,0.2542)" fill="#000" stroke="#000" stroke-width="1.1" >3 Mar 00:00</text>
<text transform="translate(760.7,941) scale(0.2314,0.2542)" fill="#000" stroke="#000" stroke-width="1.1" >4 Mar 08:00</text>
<text transform="translate(824.7,941) scale(0.2314,0.2542)" fill="#000" stroke="#000" stroke-width="1.1" >7 Mar 16:00</text>
<text transform="translate(888.7,941) scale(0.2314,0.2542)" fill="#000" stroke="#000" stroke-width="1.1" >9 Mar 00:00</text>
<text transform="translate(952.7,941) scale(0.2314,0.2542)" fill="#000" stroke="#000" stroke-width="1.1" >10 Mar 08:00</text>
<text transform="translate(1016.7,941) scale(0.2314,0.2542)" fill="#000" stroke="#000" stroke-width="1.1" >11 Mar 16:00</text>
<text transform="translate(1080.7,941) scale(0.2314,0.2542)" fill="#000" stroke="#000" stroke-width="1.1" >15 Mar 00:00</text>
<text transform="translate(1144.7,941) scale(0.2314,0.2542)" fill="#000" stroke="#000" stroke-width="1.1" >16 Mar 08:00</text>
<text transform="translate(1208.7,941) scale(0.2314,0.2542)" fill="#000" stroke="#000" stroke-width="1.1" >17 Mar 16:00</text>
<text transform="translate(1272.7,941) scale(0.2314,0.2542)" fill="#000" stroke="#000" stroke-width="1.1" >21 Mar 00:00</text>
<text transform="translate(1336.7,941) scale(0.2314,0.2542)" fill="#000" stroke="#000" stroke-width="1.1" >22 Mar 08:00</text>
<text transform="translate(1400.7,941) scale(0.2314,0.2542)" fill="#000" stroke="#000" stroke-width="1.1" >23 Mar 16:00</text>
<text transform="translate(-2.5,590) scale(0.2362,0.2542)" fill="#000" stroke="#000" stroke-width="1.1" >MACD(12,26,9) 1.1580 1.2402</text>
<text transform="translate(-2.5,766) scale(0.2362,0.2542)" fill="#000" stroke="#000" stroke-width="1.1" >RSI(14) 68.2313</text>
<text transform="translate(7.6,38) scale(0.2315,0.2542)" fill="#000" stroke="#000" stroke-width="1.1" xml:space="preserve">GBPJPY-,H4  159.984 160.015 159.899 159.952</text>
</g>
<rect x="1654" y="42" width="41" height="11" fill="#ff0000" shape-rendering="crispEdges"/><g font-family="'Liberation Sans',Arial,sans-serif" font-size="40" text-rendering="geometricPrecision"><text transform="translate(1658.0,51) scale(0.2319,0.2542)" fill="#fff" stroke="#fff" stroke-width="1.1" >161.192</text></g>
<rect x="1654" y="69" width="41" height="11" fill="#ff0000" shape-rendering="crispEdges"/><g font-family="'Liberation Sans',Arial,sans-serif" font-size="40" text-rendering="geometricPrecision"><text transform="translate(1658.0,78) scale(0.2319,0.2542)" fill="#fff" stroke="#fff" stroke-width="1.1" >160.664</text></g>
<rect x="1654" y="105" width="41" height="1" fill="#000"/>
<rect x="1654" y="106" width="41" height="11" fill="#32cd32" shape-rendering="crispEdges"/><g font-family="'Liberation Sans',Arial,sans-serif" font-size="40" text-rendering="geometricPrecision"><text transform="translate(1658.0,115) scale(0.2319,0.2542)" fill="#fff" stroke="#fff" stroke-width="1.1" >159.918</text></g>
<rect x="1654" y="133" width="41" height="11" fill="#0000ff" shape-rendering="crispEdges"/><g font-family="'Liberation Sans',Arial,sans-serif" font-size="40" text-rendering="geometricPrecision"><text transform="translate(1658.0,142) scale(0.2319,0.2542)" fill="#fff" stroke="#fff" stroke-width="1.1" >159.372</text></g>
<rect x="1654" y="158" width="41" height="11" fill="#0000ff" shape-rendering="crispEdges"/><g font-family="'Liberation Sans',Arial,sans-serif" font-size="40" text-rendering="geometricPrecision"><text transform="translate(1658.0,167) scale(0.2319,0.2542)" fill="#fff" stroke="#fff" stroke-width="1.1" >158.881</text></g>
<polygon points="0,33.6 3.3,37 0,37" fill="#000"/>
<g shape-rendering="crispEdges"><rect x="14" y="39" width="1" height="1" fill="#000"/><rect x="13" y="40" width="1" height="1" fill="#000"/><rect x="15" y="40" width="1" height="1" fill="#000"/><rect x="14" y="41" width="1" height="1" fill="#000"/></g>
</svg>
<div id="tp">
<div class="bt" style="left:0;top:0;width:48px;height:24px"></div>
<div class="bt" style="left:164px;top:0;width:51px;height:24px"></div>
<div class="pr" style="left:0;top:24px;width:105px;height:33px"></div>
<div class="pr" style="left:107px;top:24px;width:108px;height:33px"></div>
<div style="left:0;top:23px;width:44px;height:1px;background:#1c1cb0"></div>
<div style="left:0;top:24px;width:44px;height:1px;background:#7474f2"></div>
<div style="left:167px;top:23px;width:44px;height:1px;background:#1c1cb0"></div>
<div style="left:167px;top:24px;width:44px;height:1px;background:#7474f2"></div>
<div style="left:8px;top:5px;font-size:11.4px;line-height:15px;letter-spacing:-0.6px">SELL</div>
<div style="left:176px;top:5px;font-size:11.4px;line-height:15px">BUY</div>
<div style="left:50px;top:0;width:110px;height:20px;background:#fff;border:1px solid #a8a8a8;"></div>
<div style="left:52px;top:2px;width:18px;height:18px;background:linear-gradient(#f2f2f2 0%,#e6e6e6 48%,#d6d6d6 52%,#dcdcdc 100%);"></div>
<div style="left:71px;top:1px;width:1px;height:20px;background:#b8b8b8"></div>
<div style="left:139px;top:1px;width:1px;height:20px;background:#b8b8b8"></div>
<div style="left:141px;top:2px;width:18px;height:18px;background:linear-gradient(#f2f2f2 0%,#e6e6e6 48%,#d6d6d6 52%,#dcdcdc 100%);"></div>
<div style="left:57.5px;top:9.3px;width:0;height:0;border-left:3px solid transparent;border-right:3px solid transparent;border-top:3.5px solid #4a5aa8"></div>
<div style="left:146.500px;top:8.700px;width:0;height:0;border-left:3px solid transparent;border-right:3px solid transparent;border-bottom:3.500px solid #4a5aa8"></div>
<div style="left:72px;top:4px;width:64px;text-align:right;color:#000;font-size:12.4px;line-height:15px">1.00</div>
<div style="left:19.2px;top:41px;font-size:11.8px;line-height:13px;font-weight:bold;transform-origin:0 0;transform:scaleX(1.07)">159</div>
<div style="left:129.2px;top:41px;font-size:11.8px;line-height:13px;font-weight:bold;transform-origin:0 0;transform:scaleX(1.07)">160</div>
<div id="bigL" style="-webkit-text-stroke:0.8px #1212c8;left:42.5px;top:21px;font-size:35.2px;line-height:38px;letter-spacing:-2px;transform-origin:0 0;transform:scaleX(1.0)">95</div>
<div id="bigR" style="-webkit-text-stroke:0.8px #1212c8;left:153.5px;top:21px;font-size:35.2px;line-height:38px;letter-spacing:-2px;transform-origin:0 0;transform:scaleX(1.0)">04</div>
<div style="left:82.8px;top:26px;font-size:11.4px;line-height:12px;font-weight:bold;transform-origin:0 0;transform:scaleX(1.15)">2</div>
<div style="left:193.8px;top:26px;font-size:11.4px;line-height:12px;font-weight:bold;transform-origin:0 0;transform:scaleX(1.15)">9</div>
</div>

</body>
</html>
